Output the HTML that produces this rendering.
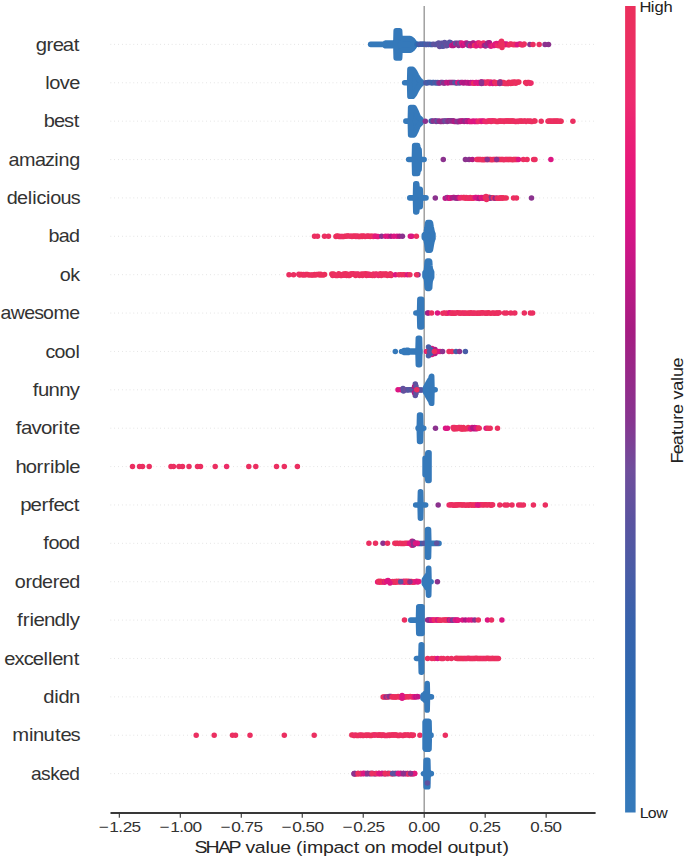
<!DOCTYPE html><html><head><meta charset="utf-8"><style>html,body{margin:0;padding:0;background:#fff;width:685px;height:857px;overflow:hidden}svg{display:block}text{font-family:"Liberation Sans",sans-serif}</style></head><body>
<svg width="685" height="857" viewBox="0 0 685 857">
<rect width="685" height="857" fill="#fff"/>
<defs><linearGradient id="cb" x1="0" y1="1" x2="0" y2="0">
<stop offset="0.000" stop-color="#3579BA"/>
<stop offset="0.015" stop-color="#3579BA"/>
<stop offset="0.077" stop-color="#3072B5"/>
<stop offset="0.139" stop-color="#2C6BB2"/>
<stop offset="0.238" stop-color="#3862AC"/>
<stop offset="0.300" stop-color="#4A5CA6"/>
<stop offset="0.362" stop-color="#5A53A0"/>
<stop offset="0.424" stop-color="#6F4E9C"/>
<stop offset="0.486" stop-color="#873590"/>
<stop offset="0.598" stop-color="#A61C82"/>
<stop offset="0.660" stop-color="#BE1885"/>
<stop offset="0.722" stop-color="#D61486"/>
<stop offset="0.809" stop-color="#E8197A"/>
<stop offset="0.883" stop-color="#ED2A6E"/>
<stop offset="0.945" stop-color="#EB2F63"/>
<stop offset="1.000" stop-color="#EB2F5C"/>
</linearGradient></defs>
<path d="M110.5 44.40H595.6M110.5 82.78H595.6M110.5 121.16H595.6M110.5 159.54H595.6M110.5 197.92H595.6M110.5 236.30H595.6M110.5 274.68H595.6M110.5 313.06H595.6M110.5 351.44H595.6M110.5 389.82H595.6M110.5 428.20H595.6M110.5 466.58H595.6M110.5 504.96H595.6M110.5 543.34H595.6M110.5 581.72H595.6M110.5 620.10H595.6M110.5 658.48H595.6M110.5 696.86H595.6M110.5 735.24H595.6M110.5 773.62H595.6" stroke="#cccccc" stroke-width="0.7" stroke-dasharray="0.7 3.13" fill="none"/>
<path d="M424.20 6.0V812.9" stroke="#999999" stroke-width="1.4" fill="none"/>
<path d="M370.65 44.35 370.90 44.35 371.15 44.35 371.40 44.35 371.65 44.35 371.90 44.35 372.15 44.35 372.40 44.35 372.65 44.35 372.90 44.35 373.15 44.35 373.40 44.35 373.65 44.35 373.90 44.35 374.15 44.35 374.40 44.35 374.65 44.35 374.90 44.35 375.15 44.35 375.40 44.35 375.65 44.35 375.90 44.35 376.15 44.35 376.40 44.35 376.65 44.35 376.90 44.35 377.15 44.35 377.40 44.35 377.65 44.35 377.90 44.35 378.15 44.35 378.40 44.35 378.65 44.35 378.90 44.35 379.15 44.35 379.40 44.35 379.65 44.35 379.90 44.35 380.15 44.35 380.40 44.35 380.65 44.35 380.90 44.35 381.15 44.35 381.40 44.35 381.65 44.35 381.90 44.35 382.15 44.35 382.40 44.35 382.65 44.35 382.90 44.35 383.15 44.33 383.40 44.26 383.65 44.26 383.90 44.15 384.15 43.98 384.40 43.92 384.65 43.75 384.90 43.42 385.15 43.19 385.40 43.05 385.65 43.05 385.90 43.05 386.15 43.05 386.40 43.05 386.65 43.05 386.90 43.05 387.15 43.05 387.40 43.05 387.65 43.05 387.90 43.05 388.15 43.05 388.40 43.05 388.65 43.05 388.90 43.05 389.15 43.05 389.40 43.05 389.65 43.05 389.90 43.05 390.15 43.05 390.40 43.05 390.65 43.05 390.90 43.05 391.15 43.05 391.40 43.05 391.65 43.05 391.90 43.05 392.15 43.05 392.40 43.05 392.65 43.05 392.90 43.05 393.15 43.05 393.40 43.03 393.65 43.03 393.90 42.96 394.15 42.85 394.40 42.85 394.65 42.68 394.90 42.45 395.15 42.12 395.40 42.12 395.65 41.63 395.90 40.30 396.15 30.75 396.40 30.75 396.65 30.75 396.90 30.75 397.15 30.75 397.40 30.75 397.65 30.75 397.90 30.75 398.15 30.75 398.40 30.75 398.65 30.75 398.90 30.75 399.15 30.75 399.40 30.75 399.65 30.75 399.90 35.70 400.15 37.03 400.40 37.03 400.65 37.52 400.90 37.85 401.15 38.08 401.40 38.08 401.65 38.25 401.90 38.36 402.15 38.36 402.40 38.43 402.65 38.45 402.90 38.45 403.15 38.45 403.40 38.45 403.65 38.45 403.90 38.45 404.15 38.45 404.40 38.45 404.65 38.45 404.90 38.45 405.15 38.45 405.40 38.45 405.65 38.45 405.90 38.45 406.15 38.45 406.40 38.45 406.65 38.45 406.90 38.45 407.15 38.45 407.40 38.45 407.65 38.45 407.90 38.45 408.15 38.45 408.40 38.45 408.65 38.45 408.90 38.45 409.15 38.45 409.40 38.45 409.65 38.45 409.90 38.45 410.15 38.56 410.40 38.67 410.65 38.78 410.90 38.89 411.15 39.04 411.40 39.24 411.65 39.44 411.90 39.64 412.15 39.84 412.40 40.04 412.65 40.29 412.90 40.60 413.15 40.92 413.40 41.24 413.65 41.55 413.90 41.89 414.15 42.27 414.40 42.64 414.65 42.99 414.90 43.36 415.15 43.55 415.15 45.25 414.90 45.44 414.65 45.81 414.40 46.16 414.15 46.53 413.90 46.91 413.65 47.25 413.40 47.56 413.15 47.88 412.90 48.20 412.65 48.51 412.40 48.76 412.15 48.96 411.90 49.16 411.65 49.36 411.40 49.56 411.15 49.76 410.90 49.91 410.65 50.02 410.40 50.13 410.15 50.24 409.90 50.35 409.65 50.35 409.40 50.35 409.15 50.35 408.90 50.35 408.65 50.35 408.40 50.35 408.15 50.35 407.90 50.35 407.65 50.35 407.40 50.35 407.15 50.35 406.90 50.35 406.65 50.35 406.40 50.35 406.15 50.35 405.90 50.35 405.65 50.35 405.40 50.35 405.15 50.35 404.90 50.35 404.65 50.35 404.40 50.35 404.15 50.35 403.90 50.35 403.65 50.35 403.40 50.35 403.15 50.35 402.90 50.35 402.65 50.35 402.40 50.37 402.15 50.44 401.90 50.44 401.65 50.55 401.40 50.72 401.15 50.72 400.90 50.95 400.65 51.28 400.40 51.77 400.15 51.77 399.90 53.10 399.65 58.05 399.40 58.05 399.15 58.05 398.90 58.05 398.65 58.05 398.40 58.05 398.15 58.05 397.90 58.05 397.65 58.05 397.40 58.05 397.15 58.05 396.90 58.05 396.65 58.05 396.40 58.05 396.15 58.05 395.90 48.50 395.65 47.17 395.40 46.68 395.15 46.68 394.90 46.35 394.65 46.12 394.40 45.95 394.15 45.95 393.90 45.84 393.65 45.77 393.40 45.77 393.15 45.75 392.90 45.75 392.65 45.75 392.40 45.75 392.15 45.75 391.90 45.75 391.65 45.75 391.40 45.75 391.15 45.75 390.90 45.75 390.65 45.75 390.40 45.75 390.15 45.75 389.90 45.75 389.65 45.75 389.40 45.75 389.15 45.75 388.90 45.75 388.65 45.75 388.40 45.75 388.15 45.75 387.90 45.75 387.65 45.75 387.40 45.75 387.15 45.75 386.90 45.75 386.65 45.75 386.40 45.75 386.15 45.75 385.90 45.75 385.65 45.75 385.40 45.75 385.15 45.61 384.90 45.38 384.65 45.05 384.40 44.88 384.15 44.82 383.90 44.65 383.65 44.54 383.40 44.54 383.15 44.47 382.90 44.45 382.65 44.45 382.40 44.45 382.15 44.45 381.90 44.45 381.65 44.45 381.40 44.45 381.15 44.45 380.90 44.45 380.65 44.45 380.40 44.45 380.15 44.45 379.90 44.45 379.65 44.45 379.40 44.45 379.15 44.45 378.90 44.45 378.65 44.45 378.40 44.45 378.15 44.45 377.90 44.45 377.65 44.45 377.40 44.45 377.15 44.45 376.90 44.45 376.65 44.45 376.40 44.45 376.15 44.45 375.90 44.45 375.65 44.45 375.40 44.45 375.15 44.45 374.90 44.45 374.65 44.45 374.40 44.45 374.15 44.45 373.90 44.45 373.65 44.45 373.40 44.45 373.15 44.45 372.90 44.45 372.65 44.45 372.40 44.45 372.15 44.45 371.90 44.45 371.65 44.45 371.40 44.45 371.15 44.45 370.90 44.45 370.65 44.45Z" fill="#3579ba" stroke="#3579ba" stroke-width="5.50" stroke-linejoin="round"/>
<path d="M416.8 44.3h0" stroke="#3071b5" stroke-width="5.50" stroke-linecap="round" fill="none"/>
<path d="M417.7 44.2h0" stroke="#2d6db3" stroke-width="5.50" stroke-linecap="round" fill="none"/>
<path d="M418.7 44.5h0M419.7 44.2h0" stroke="#3b61ab" stroke-width="5.50" stroke-linecap="round" fill="none"/>
<path d="M420.7 44.2h0" stroke="#485da7" stroke-width="5.50" stroke-linecap="round" fill="none"/>
<path d="M421.7 44.2h0" stroke="#5357a3" stroke-width="5.50" stroke-linecap="round" fill="none"/>
<path d="M422.7 44.2h0" stroke="#3b61ab" stroke-width="5.50" stroke-linecap="round" fill="none"/>
<path d="M423.7 44.2h0" stroke="#485da7" stroke-width="5.50" stroke-linecap="round" fill="none"/>
<path d="M424.7 44.2h0" stroke="#3b61ab" stroke-width="5.50" stroke-linecap="round" fill="none"/>
<path d="M425.7 44.6h0" stroke="#485da7" stroke-width="5.50" stroke-linecap="round" fill="none"/>
<path d="M426.7 44.5h0" stroke="#5357a3" stroke-width="5.50" stroke-linecap="round" fill="none"/>
<path d="M427.7 44.3h0M428.7 44.6h0" stroke="#485da7" stroke-width="5.50" stroke-linecap="round" fill="none"/>
<path d="M429.7 44.2h0M430.7 44.6h0" stroke="#5357a3" stroke-width="5.50" stroke-linecap="round" fill="none"/>
<path d="M431.7 44.6h0" stroke="#3b61ab" stroke-width="5.50" stroke-linecap="round" fill="none"/>
<path d="M432.7 44.5h0" stroke="#485da7" stroke-width="5.50" stroke-linecap="round" fill="none"/>
<path d="M433.7 44.3h0M434.7 44.5h0M435.7 44.2h0M436.7 44.5h0" stroke="#5e529f" stroke-width="5.50" stroke-linecap="round" fill="none"/>
<path d="M437.7 44.2h0" stroke="#5357a3" stroke-width="5.50" stroke-linecap="round" fill="none"/>
<path d="M438.6 43.0h0" stroke="#5e529f" stroke-width="5.50" stroke-linecap="round" fill="none"/>
<path d="M439.6 46.4h0" stroke="#6d4f9c" stroke-width="5.50" stroke-linecap="round" fill="none"/>
<path d="M440.6 46.1h0M441.6 43.3h0M442.6 46.3h0" stroke="#5e529f" stroke-width="5.50" stroke-linecap="round" fill="none"/>
<path d="M443.6 45.9h0" stroke="#5357a3" stroke-width="5.50" stroke-linecap="round" fill="none"/>
<path d="M444.6 42.6h0M445.6 43.0h0" stroke="#5e529f" stroke-width="5.50" stroke-linecap="round" fill="none"/>
<path d="M446.6 45.8h0" stroke="#6d4f9c" stroke-width="5.50" stroke-linecap="round" fill="none"/>
<path d="M447.6 45.3h0M448.6 43.1h0M449.6 42.3h0" stroke="#5e529f" stroke-width="5.50" stroke-linecap="round" fill="none"/>
<path d="M450.6 42.7h0" stroke="#5357a3" stroke-width="5.50" stroke-linecap="round" fill="none"/>
<path d="M451.6 45.4h0M452.6 45.4h0" stroke="#c11885" stroke-width="5.50" stroke-linecap="round" fill="none"/>
<path d="M453.6 45.6h0" stroke="#b01a83" stroke-width="5.50" stroke-linecap="round" fill="none"/>
<path d="M454.6 43.6h0" stroke="#c11885" stroke-width="5.50" stroke-linecap="round" fill="none"/>
<path d="M455.6 43.2h0M456.6 43.2h0" stroke="#5e529f" stroke-width="5.50" stroke-linecap="round" fill="none"/>
<path d="M457.6 43.5h0M458.6 45.5h0" stroke="#8b328e" stroke-width="5.50" stroke-linecap="round" fill="none"/>
<path d="M459.6 43.1h0M460.5 43.6h0" stroke="#6d4f9c" stroke-width="5.50" stroke-linecap="round" fill="none"/>
<path d="M461.5 43.1h0" stroke="#e4187c" stroke-width="5.50" stroke-linecap="round" fill="none"/>
<path d="M462.5 45.4h0" stroke="#dc1682" stroke-width="5.50" stroke-linecap="round" fill="none"/>
<path d="M463.5 45.1h0" stroke="#c11885" stroke-width="5.50" stroke-linecap="round" fill="none"/>
<path d="M464.5 43.4h0M465.5 43.4h0" stroke="#dc1682" stroke-width="5.50" stroke-linecap="round" fill="none"/>
<path d="M466.5 43.1h0" stroke="#c11885" stroke-width="5.50" stroke-linecap="round" fill="none"/>
<path d="M467.5 43.4h0" stroke="#962989" stroke-width="5.50" stroke-linecap="round" fill="none"/>
<path d="M468.5 45.4h0M469.5 43.7h0" stroke="#7c4095" stroke-width="5.50" stroke-linecap="round" fill="none"/>
<path d="M470.5 45.8h0" stroke="#dc1682" stroke-width="5.50" stroke-linecap="round" fill="none"/>
<path d="M471.5 45.2h0" stroke="#c11885" stroke-width="5.50" stroke-linecap="round" fill="none"/>
<path d="M472.5 43.3h0" stroke="#a21f84" stroke-width="5.50" stroke-linecap="round" fill="none"/>
<path d="M473.5 43.0h0" stroke="#b01a83" stroke-width="5.50" stroke-linecap="round" fill="none"/>
<path d="M474.5 45.5h0M475.5 45.8h0" stroke="#eb2f61" stroke-width="5.50" stroke-linecap="round" fill="none"/>
<path d="M476.5 45.8h0" stroke="#e4187c" stroke-width="5.50" stroke-linecap="round" fill="none"/>
<path d="M477.5 43.3h0" stroke="#dc1682" stroke-width="5.50" stroke-linecap="round" fill="none"/>
<path d="M478.5 43.1h0" stroke="#e4187c" stroke-width="5.50" stroke-linecap="round" fill="none"/>
<path d="M479.5 43.3h0" stroke="#ec2d68" stroke-width="5.50" stroke-linecap="round" fill="none"/>
<path d="M480.5 45.7h0" stroke="#dc1682" stroke-width="5.50" stroke-linecap="round" fill="none"/>
<path d="M481.4 45.1h0" stroke="#ec286f" stroke-width="5.50" stroke-linecap="round" fill="none"/>
<path d="M482.4 43.4h0M483.4 43.1h0" stroke="#ec2d68" stroke-width="5.50" stroke-linecap="round" fill="none"/>
<path d="M484.4 45.6h0M485.4 46.0h0" stroke="#b01a83" stroke-width="5.50" stroke-linecap="round" fill="none"/>
<path d="M486.4 45.2h0" stroke="#7c4095" stroke-width="5.50" stroke-linecap="round" fill="none"/>
<path d="M487.4 43.3h0" stroke="#b01a83" stroke-width="5.50" stroke-linecap="round" fill="none"/>
<path d="M488.4 42.9h0" stroke="#8b328e" stroke-width="5.50" stroke-linecap="round" fill="none"/>
<path d="M489.4 42.8h0" stroke="#b01a83" stroke-width="5.50" stroke-linecap="round" fill="none"/>
<path d="M490.4 45.9h0" stroke="#c11885" stroke-width="5.50" stroke-linecap="round" fill="none"/>
<path d="M491.4 46.0h0M492.4 45.4h0" stroke="#dc1682" stroke-width="5.50" stroke-linecap="round" fill="none"/>
<path d="M493.4 45.5h0" stroke="#ec2d68" stroke-width="5.50" stroke-linecap="round" fill="none"/>
<path d="M494.4 45.6h0" stroke="#dc1682" stroke-width="5.50" stroke-linecap="round" fill="none"/>
<path d="M495.4 43.7h0M496.4 43.5h0" stroke="#e4187c" stroke-width="5.50" stroke-linecap="round" fill="none"/>
<path d="M497.4 45.5h0M498.4 45.8h0" stroke="#ec2d68" stroke-width="5.50" stroke-linecap="round" fill="none"/>
<path d="M499.4 43.3h0" stroke="#e4187c" stroke-width="5.50" stroke-linecap="round" fill="none"/>
<path d="M500.4 44.6h0" stroke="#eb2f5c" stroke-width="5.50" stroke-linecap="round" fill="none"/>
<path d="M501.4 44.1h0" stroke="#ec2d68" stroke-width="5.50" stroke-linecap="round" fill="none"/>
<path d="M502.4 44.7h0" stroke="#eb2f61" stroke-width="5.50" stroke-linecap="round" fill="none"/>
<path d="M503.3 44.1h0" stroke="#eb2f5c" stroke-width="5.50" stroke-linecap="round" fill="none"/>
<path d="M504.3 44.1h0" stroke="#dc1682" stroke-width="5.50" stroke-linecap="round" fill="none"/>
<path d="M505.3 44.8h0" stroke="#eb2f61" stroke-width="5.50" stroke-linecap="round" fill="none"/>
<path d="M506.3 44.0h0" stroke="#d11586" stroke-width="5.50" stroke-linecap="round" fill="none"/>
<path d="M507.3 44.6h0" stroke="#dc1682" stroke-width="5.50" stroke-linecap="round" fill="none"/>
<path d="M508.3 44.8h0" stroke="#e4187c" stroke-width="5.50" stroke-linecap="round" fill="none"/>
<path d="M509.3 44.8h0" stroke="#eb2f5c" stroke-width="5.50" stroke-linecap="round" fill="none"/>
<path d="M510.3 44.1h0" stroke="#eb2f61" stroke-width="5.50" stroke-linecap="round" fill="none"/>
<path d="M511.3 44.2h0" stroke="#ec2d68" stroke-width="5.50" stroke-linecap="round" fill="none"/>
<path d="M512.3 44.6h0M513.3 44.7h0" stroke="#eb2f5c" stroke-width="5.50" stroke-linecap="round" fill="none"/>
<path d="M514.3 44.2h0" stroke="#ec2d68" stroke-width="5.50" stroke-linecap="round" fill="none"/>
<path d="M515.3 44.8h0M516.3 44.6h0" stroke="#eb2f61" stroke-width="5.50" stroke-linecap="round" fill="none"/>
<path d="M517.3 44.7h0M518.3 44.2h0M519.3 44.1h0M520.3 44.1h0" stroke="#dc1682" stroke-width="5.50" stroke-linecap="round" fill="none"/>
<path d="M521.3 44.8h0" stroke="#eb2f5c" stroke-width="5.50" stroke-linecap="round" fill="none"/>
<path d="M522.3 44.8h0" stroke="#eb2f61" stroke-width="5.50" stroke-linecap="round" fill="none"/>
<path d="M523.3 44.8h0" stroke="#ec2d68" stroke-width="5.50" stroke-linecap="round" fill="none"/>
<path d="M524.2 44.0h0M501.5 41.2h0M502.0 47.6h0M502.5 44.4h0" stroke="#eb2f61" stroke-width="5.50" stroke-linecap="round" fill="none"/>
<path d="M529.9 44.4h0" stroke="#8b328e" stroke-width="5.50" stroke-linecap="round" fill="none"/>
<path d="M533.0 44.4h0M539.2 44.4h0" stroke="#eb2f61" stroke-width="5.50" stroke-linecap="round" fill="none"/>
<path d="M545.0 44.4h0M548.5 44.4h0" stroke="#8b328e" stroke-width="5.50" stroke-linecap="round" fill="none"/>
<path d="M404.65 82.73 404.90 82.73 405.15 82.73 405.40 82.73 405.65 82.73 405.90 82.73 406.15 82.73 406.40 82.73 406.65 82.73 406.90 82.73 407.15 82.71 407.40 82.64 407.65 82.64 407.90 82.53 408.15 82.36 408.40 82.13 408.65 82.13 408.90 81.80 409.15 81.31 409.40 81.31 409.65 79.98 409.90 69.23 410.15 69.23 410.40 69.23 410.65 69.23 410.90 69.23 411.15 69.23 411.40 69.23 411.65 69.23 411.90 69.23 412.15 69.23 412.40 69.23 412.65 69.23 412.90 69.45 413.15 69.75 413.40 70.05 413.65 70.38 413.90 70.72 414.15 71.05 414.40 71.38 414.65 71.73 414.90 72.24 415.15 72.76 415.40 73.27 415.65 73.79 415.90 74.30 416.15 74.82 416.40 75.29 416.65 75.71 416.90 76.12 417.15 76.54 417.40 76.96 417.65 77.37 417.90 77.79 418.15 78.19 418.40 78.54 418.65 78.88 418.90 79.22 419.15 79.55 419.40 79.88 419.65 80.22 419.90 80.55 420.15 80.77 420.40 81.02 420.65 81.22 420.90 81.42 421.15 81.62 421.40 81.82 421.65 82.02 421.65 83.54 421.40 83.74 421.15 83.94 420.90 84.14 420.65 84.34 420.40 84.54 420.15 84.79 419.90 85.01 419.65 85.34 419.40 85.68 419.15 86.01 418.90 86.34 418.65 86.68 418.40 87.02 418.15 87.37 417.90 87.77 417.65 88.19 417.40 88.60 417.15 89.02 416.90 89.44 416.65 89.85 416.40 90.27 416.15 90.74 415.90 91.26 415.65 91.77 415.40 92.29 415.15 92.80 414.90 93.32 414.65 93.83 414.40 94.18 414.15 94.51 413.90 94.84 413.65 95.18 413.40 95.51 413.15 95.81 412.90 96.11 412.65 96.33 412.40 96.33 412.15 96.33 411.90 96.33 411.65 96.33 411.40 96.33 411.15 96.33 410.90 96.33 410.65 96.33 410.40 96.33 410.15 96.33 409.90 96.33 409.65 85.58 409.40 84.25 409.15 84.25 408.90 83.76 408.65 83.43 408.40 83.43 408.15 83.20 407.90 83.03 407.65 82.92 407.40 82.92 407.15 82.85 406.90 82.83 406.65 82.83 406.40 82.83 406.15 82.83 405.90 82.83 405.65 82.83 405.40 82.83 405.15 82.83 404.90 82.83 404.65 82.83Z" fill="#3579ba" stroke="#3579ba" stroke-width="5.50" stroke-linejoin="round"/>
<path d="M425.8 82.7h0" stroke="#485da7" stroke-width="5.50" stroke-linecap="round" fill="none"/>
<path d="M426.8 83.0h0" stroke="#5357a3" stroke-width="5.50" stroke-linecap="round" fill="none"/>
<path d="M427.8 82.6h0M428.8 82.6h0" stroke="#485da7" stroke-width="5.50" stroke-linecap="round" fill="none"/>
<path d="M429.8 82.6h0" stroke="#3b61ab" stroke-width="5.50" stroke-linecap="round" fill="none"/>
<path d="M430.8 82.6h0M431.8 82.9h0" stroke="#485da7" stroke-width="5.50" stroke-linecap="round" fill="none"/>
<path d="M432.8 82.6h0M433.8 82.6h0" stroke="#3b61ab" stroke-width="5.50" stroke-linecap="round" fill="none"/>
<path d="M434.8 82.7h0" stroke="#485da7" stroke-width="5.50" stroke-linecap="round" fill="none"/>
<path d="M435.8 82.6h0" stroke="#5357a3" stroke-width="5.50" stroke-linecap="round" fill="none"/>
<path d="M436.8 82.9h0" stroke="#3b61ab" stroke-width="5.50" stroke-linecap="round" fill="none"/>
<path d="M437.8 82.6h0" stroke="#5357a3" stroke-width="5.50" stroke-linecap="round" fill="none"/>
<path d="M438.8 82.9h0" stroke="#7c4095" stroke-width="5.50" stroke-linecap="round" fill="none"/>
<path d="M439.8 82.9h0M440.8 82.6h0M441.8 82.6h0" stroke="#962989" stroke-width="5.50" stroke-linecap="round" fill="none"/>
<path d="M442.8 82.6h0" stroke="#5e529f" stroke-width="5.50" stroke-linecap="round" fill="none"/>
<path d="M443.8 82.9h0" stroke="#962989" stroke-width="5.50" stroke-linecap="round" fill="none"/>
<path d="M444.8 82.9h0M445.8 82.6h0" stroke="#8b328e" stroke-width="5.50" stroke-linecap="round" fill="none"/>
<path d="M446.8 82.5h0M447.8 82.9h0M448.8 82.6h0" stroke="#c11885" stroke-width="5.50" stroke-linecap="round" fill="none"/>
<path d="M449.8 82.6h0" stroke="#b01a83" stroke-width="5.50" stroke-linecap="round" fill="none"/>
<path d="M450.8 82.6h0" stroke="#c11885" stroke-width="5.50" stroke-linecap="round" fill="none"/>
<path d="M451.8 82.6h0M452.8 82.6h0" stroke="#8b328e" stroke-width="5.50" stroke-linecap="round" fill="none"/>
<path d="M453.8 82.6h0" stroke="#962989" stroke-width="5.50" stroke-linecap="round" fill="none"/>
<path d="M454.8 82.6h0" stroke="#5e529f" stroke-width="5.50" stroke-linecap="round" fill="none"/>
<path d="M455.8 82.7h0" stroke="#5357a3" stroke-width="5.50" stroke-linecap="round" fill="none"/>
<path d="M456.8 83.0h0" stroke="#5e529f" stroke-width="5.50" stroke-linecap="round" fill="none"/>
<path d="M457.8 82.6h0M458.8 82.6h0" stroke="#dc1682" stroke-width="5.50" stroke-linecap="round" fill="none"/>
<path d="M459.8 83.0h0M460.8 82.6h0" stroke="#5e529f" stroke-width="5.50" stroke-linecap="round" fill="none"/>
<path d="M461.8 82.6h0" stroke="#b01a83" stroke-width="5.50" stroke-linecap="round" fill="none"/>
<path d="M462.8 82.5h0" stroke="#c11885" stroke-width="5.50" stroke-linecap="round" fill="none"/>
<path d="M463.8 83.1h0M464.8 82.5h0M465.8 82.6h0M466.8 83.0h0" stroke="#b01a83" stroke-width="5.50" stroke-linecap="round" fill="none"/>
<path d="M467.8 82.6h0M468.8 83.1h0" stroke="#c11885" stroke-width="5.50" stroke-linecap="round" fill="none"/>
<path d="M469.8 83.1h0M470.8 82.6h0" stroke="#b01a83" stroke-width="5.50" stroke-linecap="round" fill="none"/>
<path d="M471.8 83.0h0M472.8 82.5h0" stroke="#d11586" stroke-width="5.50" stroke-linecap="round" fill="none"/>
<path d="M473.8 83.3h0" stroke="#eb2f5c" stroke-width="5.50" stroke-linecap="round" fill="none"/>
<path d="M474.8 83.2h0" stroke="#eb2f61" stroke-width="5.50" stroke-linecap="round" fill="none"/>
<path d="M475.8 82.4h0M476.8 82.4h0M477.8 83.2h0M478.8 82.4h0" stroke="#dc1682" stroke-width="5.50" stroke-linecap="round" fill="none"/>
<path d="M479.8 83.0h0" stroke="#e4187c" stroke-width="5.50" stroke-linecap="round" fill="none"/>
<path d="M480.8 82.3h0" stroke="#d11586" stroke-width="5.50" stroke-linecap="round" fill="none"/>
<path d="M481.8 82.1h0M482.8 83.2h0" stroke="#dc1682" stroke-width="5.50" stroke-linecap="round" fill="none"/>
<path d="M483.8 82.3h0" stroke="#ec2d68" stroke-width="5.50" stroke-linecap="round" fill="none"/>
<path d="M484.8 82.3h0" stroke="#ec286f" stroke-width="5.50" stroke-linecap="round" fill="none"/>
<path d="M485.8 83.2h0" stroke="#ec2d68" stroke-width="5.50" stroke-linecap="round" fill="none"/>
<path d="M486.8 82.2h0" stroke="#eb2f61" stroke-width="5.50" stroke-linecap="round" fill="none"/>
<path d="M487.8 82.0h0" stroke="#ec2d68" stroke-width="5.50" stroke-linecap="round" fill="none"/>
<path d="M488.8 82.2h0" stroke="#eb2f61" stroke-width="5.50" stroke-linecap="round" fill="none"/>
<path d="M489.8 83.6h0" stroke="#ec286f" stroke-width="5.50" stroke-linecap="round" fill="none"/>
<path d="M490.8 82.0h0" stroke="#ec2d68" stroke-width="5.50" stroke-linecap="round" fill="none"/>
<path d="M491.8 83.1h0M492.8 83.6h0" stroke="#dc1682" stroke-width="5.50" stroke-linecap="round" fill="none"/>
<path d="M493.8 82.3h0" stroke="#d11586" stroke-width="5.50" stroke-linecap="round" fill="none"/>
<path d="M494.8 82.2h0" stroke="#eb2f5c" stroke-width="5.50" stroke-linecap="round" fill="none"/>
<path d="M495.8 83.5h0" stroke="#eb2f61" stroke-width="5.50" stroke-linecap="round" fill="none"/>
<path d="M496.8 83.2h0" stroke="#ec2d68" stroke-width="5.50" stroke-linecap="round" fill="none"/>
<path d="M497.8 83.3h0" stroke="#eb2f61" stroke-width="5.50" stroke-linecap="round" fill="none"/>
<path d="M498.8 83.2h0" stroke="#ec2d68" stroke-width="5.50" stroke-linecap="round" fill="none"/>
<path d="M499.8 83.1h0M500.8 82.0h0M501.8 82.3h0M502.8 83.3h0M503.8 82.4h0M504.8 83.6h0M505.8 83.5h0M506.8 83.5h0M507.8 83.6h0" stroke="#eb2f61" stroke-width="5.50" stroke-linecap="round" fill="none"/>
<path d="M508.8 82.2h0" stroke="#eb2f5c" stroke-width="5.50" stroke-linecap="round" fill="none"/>
<path d="M509.8 83.2h0M510.8 83.6h0M511.8 82.3h0" stroke="#eb2f61" stroke-width="5.50" stroke-linecap="round" fill="none"/>
<path d="M512.8 83.2h0M513.8 82.1h0M514.8 82.0h0" stroke="#eb2f5c" stroke-width="5.50" stroke-linecap="round" fill="none"/>
<path d="M515.8 83.3h0M516.8 82.3h0M517.8 82.3h0" stroke="#eb2f61" stroke-width="5.50" stroke-linecap="round" fill="none"/>
<path d="M518.8 82.1h0" stroke="#eb2f5c" stroke-width="5.50" stroke-linecap="round" fill="none"/>
<path d="M481.5 82.0h0M481.5 83.6h0M499.8 82.0h0M499.8 83.6h0" stroke="#8b328e" stroke-width="5.50" stroke-linecap="round" fill="none"/>
<path d="M525.6 82.5h0" stroke="#eb2f5c" stroke-width="5.50" stroke-linecap="round" fill="none"/>
<path d="M526.7 83.4h0M527.8 82.4h0M528.9 82.4h0M530.0 83.3h0" stroke="#eb2f61" stroke-width="5.50" stroke-linecap="round" fill="none"/>
<path d="M531.0 83.1h0" stroke="#ec2d68" stroke-width="5.50" stroke-linecap="round" fill="none"/>
<path d="M405.85 121.11 406.10 121.11 406.35 121.11 406.60 121.11 406.85 121.11 407.10 121.11 407.35 121.11 407.60 121.11 407.85 121.09 408.10 121.02 408.35 121.02 408.60 120.91 408.85 120.74 409.10 120.51 409.35 120.51 409.60 120.18 409.85 119.69 410.10 119.69 410.35 118.36 410.60 107.41 410.85 107.41 411.10 107.41 411.35 107.41 411.60 107.41 411.85 107.41 412.10 107.41 412.35 107.41 412.60 107.41 412.85 107.41 413.10 107.41 413.35 107.41 413.60 107.41 413.85 107.41 414.10 107.67 414.35 108.09 414.60 108.50 414.85 109.00 415.10 109.50 415.35 110.00 415.60 110.50 415.85 111.00 416.10 111.51 416.35 112.13 416.60 112.76 416.85 113.38 417.10 114.01 417.35 114.63 417.60 115.26 417.85 115.88 418.10 116.50 418.35 116.76 418.60 117.14 418.85 117.38 419.10 117.62 419.35 117.86 419.60 118.11 419.85 118.35 420.10 118.59 420.35 118.83 420.60 119.08 420.85 119.32 421.10 119.56 421.10 122.76 420.85 123.00 420.60 123.24 420.35 123.49 420.10 123.73 419.85 123.97 419.60 124.21 419.35 124.46 419.10 124.70 418.85 124.94 418.60 125.18 418.35 125.56 418.10 125.82 417.85 126.44 417.60 127.06 417.35 127.69 417.10 128.31 416.85 128.94 416.60 129.56 416.35 130.19 416.10 130.81 415.85 131.32 415.60 131.82 415.35 132.32 415.10 132.82 414.85 133.32 414.60 133.82 414.35 134.23 414.10 134.65 413.85 134.91 413.60 134.91 413.35 134.91 413.10 134.91 412.85 134.91 412.60 134.91 412.35 134.91 412.10 134.91 411.85 134.91 411.60 134.91 411.35 134.91 411.10 134.91 410.85 134.91 410.60 134.91 410.35 123.96 410.10 122.63 409.85 122.63 409.60 122.14 409.35 121.81 409.10 121.81 408.85 121.58 408.60 121.41 408.35 121.30 408.10 121.30 407.85 121.23 407.60 121.21 407.35 121.21 407.10 121.21 406.85 121.21 406.60 121.21 406.35 121.21 406.10 121.21 405.85 121.21Z" fill="#3579ba" stroke="#3579ba" stroke-width="5.50" stroke-linejoin="round"/>
<path d="M425.3 121.2h0" stroke="#8b328e" stroke-width="5.50" stroke-linecap="round" fill="none"/>
<path d="M431.2 120.9h0" stroke="#3b61ab" stroke-width="5.50" stroke-linecap="round" fill="none"/>
<path d="M432.2 121.3h0" stroke="#485da7" stroke-width="5.50" stroke-linecap="round" fill="none"/>
<path d="M433.2 120.9h0M434.2 120.9h0M435.2 120.8h0M436.2 121.5h0" stroke="#8b328e" stroke-width="5.50" stroke-linecap="round" fill="none"/>
<path d="M437.2 120.9h0M438.2 121.3h0" stroke="#5e529f" stroke-width="5.50" stroke-linecap="round" fill="none"/>
<path d="M439.2 120.9h0M440.2 121.6h0M441.2 121.5h0M442.2 121.0h0" stroke="#962989" stroke-width="5.50" stroke-linecap="round" fill="none"/>
<path d="M443.2 121.4h0M444.2 120.9h0" stroke="#8b328e" stroke-width="5.50" stroke-linecap="round" fill="none"/>
<path d="M445.2 121.0h0" stroke="#5e529f" stroke-width="5.50" stroke-linecap="round" fill="none"/>
<path d="M446.2 120.9h0" stroke="#6d4f9c" stroke-width="5.50" stroke-linecap="round" fill="none"/>
<path d="M447.2 121.4h0" stroke="#7c4095" stroke-width="5.50" stroke-linecap="round" fill="none"/>
<path d="M448.2 120.7h0" stroke="#8b328e" stroke-width="5.50" stroke-linecap="round" fill="none"/>
<path d="M449.2 120.8h0" stroke="#962989" stroke-width="5.50" stroke-linecap="round" fill="none"/>
<path d="M450.2 120.7h0" stroke="#8b328e" stroke-width="5.50" stroke-linecap="round" fill="none"/>
<path d="M451.2 120.8h0" stroke="#7c4095" stroke-width="5.50" stroke-linecap="round" fill="none"/>
<path d="M452.2 120.9h0" stroke="#962989" stroke-width="5.50" stroke-linecap="round" fill="none"/>
<path d="M453.2 120.7h0" stroke="#8b328e" stroke-width="5.50" stroke-linecap="round" fill="none"/>
<path d="M454.2 121.6h0M455.2 121.5h0M456.2 121.5h0" stroke="#b01a83" stroke-width="5.50" stroke-linecap="round" fill="none"/>
<path d="M457.2 121.5h0" stroke="#7c4095" stroke-width="5.50" stroke-linecap="round" fill="none"/>
<path d="M458.2 121.7h0M459.2 120.9h0" stroke="#8b328e" stroke-width="5.50" stroke-linecap="round" fill="none"/>
<path d="M460.2 121.5h0" stroke="#b01a83" stroke-width="5.50" stroke-linecap="round" fill="none"/>
<path d="M461.2 120.9h0" stroke="#a21f84" stroke-width="5.50" stroke-linecap="round" fill="none"/>
<path d="M462.2 120.9h0" stroke="#c11885" stroke-width="5.50" stroke-linecap="round" fill="none"/>
<path d="M463.2 120.9h0M464.2 121.5h0" stroke="#b01a83" stroke-width="5.50" stroke-linecap="round" fill="none"/>
<path d="M465.2 120.9h0" stroke="#962989" stroke-width="5.50" stroke-linecap="round" fill="none"/>
<path d="M466.2 120.8h0" stroke="#8b328e" stroke-width="5.50" stroke-linecap="round" fill="none"/>
<path d="M467.2 121.4h0M468.2 120.7h0" stroke="#c11885" stroke-width="5.50" stroke-linecap="round" fill="none"/>
<path d="M469.2 121.4h0" stroke="#b01a83" stroke-width="5.50" stroke-linecap="round" fill="none"/>
<path d="M470.2 121.5h0" stroke="#e4187c" stroke-width="5.50" stroke-linecap="round" fill="none"/>
<path d="M471.2 121.4h0" stroke="#dc1682" stroke-width="5.50" stroke-linecap="round" fill="none"/>
<path d="M472.2 121.6h0" stroke="#e4187c" stroke-width="5.50" stroke-linecap="round" fill="none"/>
<path d="M473.2 120.9h0" stroke="#dc1682" stroke-width="5.50" stroke-linecap="round" fill="none"/>
<path d="M474.2 121.4h0" stroke="#e4187c" stroke-width="5.50" stroke-linecap="round" fill="none"/>
<path d="M475.2 121.4h0M476.2 120.9h0M477.2 121.5h0" stroke="#dc1682" stroke-width="5.50" stroke-linecap="round" fill="none"/>
<path d="M478.2 121.4h0" stroke="#ec286f" stroke-width="5.50" stroke-linecap="round" fill="none"/>
<path d="M479.2 121.0h0M480.2 121.0h0" stroke="#ec2d68" stroke-width="5.50" stroke-linecap="round" fill="none"/>
<path d="M481.2 121.4h0" stroke="#ec286f" stroke-width="5.50" stroke-linecap="round" fill="none"/>
<path d="M482.2 121.0h0M483.1 121.0h0" stroke="#dc1682" stroke-width="5.50" stroke-linecap="round" fill="none"/>
<path d="M484.1 121.3h0" stroke="#e4187c" stroke-width="5.50" stroke-linecap="round" fill="none"/>
<path d="M485.1 121.4h0" stroke="#ec2d68" stroke-width="5.50" stroke-linecap="round" fill="none"/>
<path d="M486.1 121.4h0" stroke="#ec286f" stroke-width="5.50" stroke-linecap="round" fill="none"/>
<path d="M487.1 121.4h0" stroke="#ec2d68" stroke-width="5.50" stroke-linecap="round" fill="none"/>
<path d="M488.1 120.9h0" stroke="#ec286f" stroke-width="5.50" stroke-linecap="round" fill="none"/>
<path d="M489.1 121.0h0" stroke="#ec2d68" stroke-width="5.50" stroke-linecap="round" fill="none"/>
<path d="M490.1 120.9h0M491.1 121.5h0" stroke="#eb2f5c" stroke-width="5.50" stroke-linecap="round" fill="none"/>
<path d="M492.1 120.8h0" stroke="#ec286f" stroke-width="5.50" stroke-linecap="round" fill="none"/>
<path d="M493.1 120.9h0M494.1 120.9h0" stroke="#ec2d68" stroke-width="5.50" stroke-linecap="round" fill="none"/>
<path d="M495.1 121.0h0M496.1 121.4h0M497.1 121.4h0" stroke="#eb2f61" stroke-width="5.50" stroke-linecap="round" fill="none"/>
<path d="M498.1 121.4h0" stroke="#eb2f5c" stroke-width="5.50" stroke-linecap="round" fill="none"/>
<path d="M499.1 121.0h0" stroke="#eb2f61" stroke-width="5.50" stroke-linecap="round" fill="none"/>
<path d="M500.1 120.9h0" stroke="#eb2f5c" stroke-width="5.50" stroke-linecap="round" fill="none"/>
<path d="M501.1 121.3h0" stroke="#eb2f61" stroke-width="5.50" stroke-linecap="round" fill="none"/>
<path d="M502.1 121.3h0" stroke="#eb2f5c" stroke-width="5.50" stroke-linecap="round" fill="none"/>
<path d="M503.1 121.0h0" stroke="#ec2d68" stroke-width="5.50" stroke-linecap="round" fill="none"/>
<path d="M504.1 121.4h0M505.1 121.0h0" stroke="#eb2f61" stroke-width="5.50" stroke-linecap="round" fill="none"/>
<path d="M506.1 121.0h0" stroke="#eb2f5c" stroke-width="5.50" stroke-linecap="round" fill="none"/>
<path d="M507.1 121.0h0" stroke="#ec2d68" stroke-width="5.50" stroke-linecap="round" fill="none"/>
<path d="M508.1 121.1h0" stroke="#eb2f5c" stroke-width="5.50" stroke-linecap="round" fill="none"/>
<path d="M509.1 120.9h0" stroke="#eb2f61" stroke-width="5.50" stroke-linecap="round" fill="none"/>
<path d="M510.1 121.3h0" stroke="#eb2f5c" stroke-width="5.50" stroke-linecap="round" fill="none"/>
<path d="M511.1 120.9h0" stroke="#eb2f61" stroke-width="5.50" stroke-linecap="round" fill="none"/>
<path d="M512.1 120.9h0" stroke="#eb2f5c" stroke-width="5.50" stroke-linecap="round" fill="none"/>
<path d="M513.1 121.0h0" stroke="#eb2f61" stroke-width="5.50" stroke-linecap="round" fill="none"/>
<path d="M514.1 121.3h0" stroke="#eb2f5c" stroke-width="5.50" stroke-linecap="round" fill="none"/>
<path d="M515.1 121.4h0" stroke="#ec2d68" stroke-width="5.50" stroke-linecap="round" fill="none"/>
<path d="M516.1 121.4h0" stroke="#eb2f5c" stroke-width="5.50" stroke-linecap="round" fill="none"/>
<path d="M517.1 121.3h0" stroke="#ec2d68" stroke-width="5.50" stroke-linecap="round" fill="none"/>
<path d="M518.1 121.4h0M519.1 121.0h0M520.1 121.0h0" stroke="#eb2f61" stroke-width="5.50" stroke-linecap="round" fill="none"/>
<path d="M521.1 121.3h0" stroke="#ec2d68" stroke-width="5.50" stroke-linecap="round" fill="none"/>
<path d="M522.1 120.9h0M523.1 121.3h0M524.1 121.0h0" stroke="#eb2f5c" stroke-width="5.50" stroke-linecap="round" fill="none"/>
<path d="M525.1 121.0h0M526.1 121.4h0M527.1 121.0h0M528.1 121.0h0M529.1 121.3h0" stroke="#eb2f61" stroke-width="5.50" stroke-linecap="round" fill="none"/>
<path d="M530.1 121.0h0" stroke="#eb2f5c" stroke-width="5.50" stroke-linecap="round" fill="none"/>
<path d="M531.1 121.4h0M532.1 121.4h0M533.1 121.3h0M534.1 121.0h0" stroke="#eb2f61" stroke-width="5.50" stroke-linecap="round" fill="none"/>
<path d="M535.0 121.0h0" stroke="#eb2f5c" stroke-width="5.50" stroke-linecap="round" fill="none"/>
<path d="M541.2 121.2h0" stroke="#eb2f61" stroke-width="5.50" stroke-linecap="round" fill="none"/>
<path d="M548.0 121.2h0" stroke="#eb2f5c" stroke-width="5.50" stroke-linecap="round" fill="none"/>
<path d="M549.0 121.1h0M550.0 121.1h0" stroke="#eb2f61" stroke-width="5.50" stroke-linecap="round" fill="none"/>
<path d="M551.0 121.2h0" stroke="#eb2f5c" stroke-width="5.50" stroke-linecap="round" fill="none"/>
<path d="M552.0 121.2h0" stroke="#eb2f61" stroke-width="5.50" stroke-linecap="round" fill="none"/>
<path d="M553.0 121.2h0" stroke="#eb2f5c" stroke-width="5.50" stroke-linecap="round" fill="none"/>
<path d="M554.0 121.1h0" stroke="#ec2d68" stroke-width="5.50" stroke-linecap="round" fill="none"/>
<path d="M555.1 121.2h0" stroke="#eb2f61" stroke-width="5.50" stroke-linecap="round" fill="none"/>
<path d="M556.1 121.1h0" stroke="#eb2f5c" stroke-width="5.50" stroke-linecap="round" fill="none"/>
<path d="M557.1 121.2h0" stroke="#eb2f61" stroke-width="5.50" stroke-linecap="round" fill="none"/>
<path d="M558.1 121.1h0M559.1 121.2h0" stroke="#eb2f5c" stroke-width="5.50" stroke-linecap="round" fill="none"/>
<path d="M560.1 121.2h0" stroke="#ec2d68" stroke-width="5.50" stroke-linecap="round" fill="none"/>
<path d="M561.1 121.2h0" stroke="#eb2f5c" stroke-width="5.50" stroke-linecap="round" fill="none"/>
<path d="M572.9 121.2h0" stroke="#eb2f61" stroke-width="5.50" stroke-linecap="round" fill="none"/>
<path d="M408.65 159.49 408.90 159.49 409.15 159.49 409.40 159.49 409.65 159.49 409.90 159.49 410.15 159.49 410.40 159.49 410.65 159.49 410.90 159.49 411.15 159.49 411.40 159.49 411.65 159.49 411.90 159.47 412.15 159.40 412.40 159.40 412.65 159.29 412.90 159.12 413.15 159.12 413.40 158.89 413.65 158.56 413.90 158.07 414.15 158.07 414.40 156.74 414.65 145.49 414.90 145.49 415.15 145.49 415.40 145.49 415.65 145.49 415.90 145.49 416.15 145.49 416.40 145.49 416.65 145.49 416.90 145.49 417.15 145.49 417.40 145.49 417.65 145.49 417.90 147.54 418.15 147.54 418.40 148.87 418.65 149.36 418.90 149.69 419.15 149.69 419.40 156.74 419.65 158.07 419.90 158.07 420.15 158.56 420.40 158.89 420.65 159.12 420.90 159.12 421.15 159.29 421.40 159.40 421.65 159.40 421.90 159.47 422.15 159.49 422.40 159.49 422.65 159.49 422.90 159.49 423.15 159.49 423.40 159.49 423.65 159.49 423.90 159.49 424.15 159.49 424.15 159.59 423.90 159.59 423.65 159.59 423.40 159.59 423.15 159.59 422.90 159.59 422.65 159.59 422.40 159.59 422.15 159.59 421.90 159.61 421.65 159.68 421.40 159.68 421.15 159.79 420.90 159.96 420.65 159.96 420.40 160.19 420.15 160.52 419.90 161.01 419.65 161.01 419.40 162.34 419.15 169.39 418.90 169.39 418.65 169.72 418.40 170.21 418.15 171.54 417.90 171.54 417.65 173.59 417.40 173.59 417.15 173.59 416.90 173.59 416.65 173.59 416.40 173.59 416.15 173.59 415.90 173.59 415.65 173.59 415.40 173.59 415.15 173.59 414.90 173.59 414.65 173.59 414.40 162.34 414.15 161.01 413.90 161.01 413.65 160.52 413.40 160.19 413.15 159.96 412.90 159.96 412.65 159.79 412.40 159.68 412.15 159.68 411.90 159.61 411.65 159.59 411.40 159.59 411.15 159.59 410.90 159.59 410.65 159.59 410.40 159.59 410.15 159.59 409.90 159.59 409.65 159.59 409.40 159.59 409.15 159.59 408.90 159.59 408.65 159.59Z" fill="#3579ba" stroke="#3579ba" stroke-width="5.50" stroke-linejoin="round"/>
<path d="M443.3 159.5h0M465.4 159.5h0M469.1 159.5h0" stroke="#8b328e" stroke-width="5.50" stroke-linecap="round" fill="none"/>
<path d="M472.4 159.5h0" stroke="#b01a83" stroke-width="5.50" stroke-linecap="round" fill="none"/>
<path d="M476.8 159.5h0M477.8 159.4h0M478.8 159.6h0" stroke="#eb2f61" stroke-width="5.50" stroke-linecap="round" fill="none"/>
<path d="M479.8 159.6h0" stroke="#eb2f5c" stroke-width="5.50" stroke-linecap="round" fill="none"/>
<path d="M480.8 159.4h0M481.8 159.7h0M482.8 159.5h0M483.8 159.7h0" stroke="#eb2f61" stroke-width="5.50" stroke-linecap="round" fill="none"/>
<path d="M484.9 159.4h0" stroke="#eb2f5c" stroke-width="5.50" stroke-linecap="round" fill="none"/>
<path d="M485.9 159.5h0" stroke="#eb2f61" stroke-width="5.50" stroke-linecap="round" fill="none"/>
<path d="M486.9 159.4h0" stroke="#eb2f5c" stroke-width="5.50" stroke-linecap="round" fill="none"/>
<path d="M487.9 159.4h0" stroke="#eb2f61" stroke-width="5.50" stroke-linecap="round" fill="none"/>
<path d="M488.9 159.6h0" stroke="#eb2f5c" stroke-width="5.50" stroke-linecap="round" fill="none"/>
<path d="M489.9 159.4h0" stroke="#eb2f61" stroke-width="5.50" stroke-linecap="round" fill="none"/>
<path d="M490.9 159.5h0" stroke="#eb2f5c" stroke-width="5.50" stroke-linecap="round" fill="none"/>
<path d="M491.9 159.7h0" stroke="#eb2f61" stroke-width="5.50" stroke-linecap="round" fill="none"/>
<path d="M492.9 159.6h0" stroke="#eb2f5c" stroke-width="5.50" stroke-linecap="round" fill="none"/>
<path d="M494.0 159.6h0" stroke="#eb2f61" stroke-width="5.50" stroke-linecap="round" fill="none"/>
<path d="M495.0 159.6h0" stroke="#eb2f5c" stroke-width="5.50" stroke-linecap="round" fill="none"/>
<path d="M496.0 159.4h0" stroke="#eb2f61" stroke-width="5.50" stroke-linecap="round" fill="none"/>
<path d="M497.0 159.4h0" stroke="#eb2f5c" stroke-width="5.50" stroke-linecap="round" fill="none"/>
<path d="M498.0 159.5h0M499.0 159.4h0M500.0 159.6h0" stroke="#eb2f61" stroke-width="5.50" stroke-linecap="round" fill="none"/>
<path d="M501.1 159.4h0M502.1 159.4h0M503.1 159.6h0" stroke="#eb2f5c" stroke-width="5.50" stroke-linecap="round" fill="none"/>
<path d="M504.1 159.7h0M505.1 159.4h0M506.1 159.6h0M507.1 159.4h0" stroke="#eb2f61" stroke-width="5.50" stroke-linecap="round" fill="none"/>
<path d="M508.1 159.6h0" stroke="#ec2d68" stroke-width="5.50" stroke-linecap="round" fill="none"/>
<path d="M509.1 159.6h0M510.2 159.5h0M511.2 159.4h0M512.2 159.7h0" stroke="#eb2f5c" stroke-width="5.50" stroke-linecap="round" fill="none"/>
<path d="M513.2 159.5h0" stroke="#eb2f61" stroke-width="5.50" stroke-linecap="round" fill="none"/>
<path d="M514.2 159.6h0" stroke="#eb2f5c" stroke-width="5.50" stroke-linecap="round" fill="none"/>
<path d="M515.2 159.5h0M516.2 159.4h0" stroke="#eb2f61" stroke-width="5.50" stroke-linecap="round" fill="none"/>
<path d="M517.2 159.6h0" stroke="#eb2f5c" stroke-width="5.50" stroke-linecap="round" fill="none"/>
<path d="M487.2 159.5h0M496.7 159.5h0" stroke="#8b328e" stroke-width="5.50" stroke-linecap="round" fill="none"/>
<path d="M518.5 159.5h0" stroke="#dc1682" stroke-width="5.50" stroke-linecap="round" fill="none"/>
<path d="M523.3 159.5h0M527.1 159.5h0M533.6 159.5h0M535.0 159.5h0" stroke="#eb2f61" stroke-width="5.50" stroke-linecap="round" fill="none"/>
<path d="M550.9 159.5h0" stroke="#dc1682" stroke-width="5.50" stroke-linecap="round" fill="none"/>
<path d="M409.75 197.87 410.00 197.87 410.25 197.87 410.50 197.87 410.75 197.87 411.00 197.87 411.25 197.87 411.50 197.87 411.75 197.87 412.00 197.87 412.25 197.87 412.50 197.87 412.75 197.87 413.00 197.85 413.25 197.78 413.50 197.78 413.75 197.67 414.00 197.50 414.25 197.50 414.50 197.27 414.75 196.94 415.00 196.45 415.25 196.45 415.50 195.12 415.75 183.87 416.00 183.87 416.25 183.87 416.50 183.87 416.75 183.87 417.00 186.42 417.25 187.75 417.50 187.75 417.75 188.24 418.00 188.57 418.25 188.80 418.50 188.80 418.75 188.97 419.00 189.08 419.25 189.08 419.50 189.15 419.75 189.17 420.00 189.17 420.25 189.17 420.50 195.12 420.75 196.45 421.00 196.45 421.25 196.94 421.50 197.27 421.75 197.50 422.00 197.50 422.25 197.67 422.50 197.78 422.75 197.78 423.00 197.85 423.25 197.87 423.50 197.87 423.75 197.87 424.00 197.87 424.25 197.87 424.50 197.87 424.75 197.87 425.00 197.87 425.25 197.87 425.50 197.87 425.75 197.87 426.00 197.87 426.00 197.97 425.75 197.97 425.50 197.97 425.25 197.97 425.00 197.97 424.75 197.97 424.50 197.97 424.25 197.97 424.00 197.97 423.75 197.97 423.50 197.97 423.25 197.97 423.00 197.99 422.75 198.06 422.50 198.06 422.25 198.17 422.00 198.34 421.75 198.34 421.50 198.57 421.25 198.90 421.00 199.39 420.75 199.39 420.50 200.72 420.25 206.67 420.00 206.67 419.75 206.67 419.50 206.69 419.25 206.76 419.00 206.76 418.75 206.87 418.50 207.04 418.25 207.04 418.00 207.27 417.75 207.60 417.50 208.09 417.25 208.09 417.00 209.42 416.75 211.97 416.50 211.97 416.25 211.97 416.00 211.97 415.75 211.97 415.50 200.72 415.25 199.39 415.00 199.39 414.75 198.90 414.50 198.57 414.25 198.34 414.00 198.34 413.75 198.17 413.50 198.06 413.25 198.06 413.00 197.99 412.75 197.97 412.50 197.97 412.25 197.97 412.00 197.97 411.75 197.97 411.50 197.97 411.25 197.97 411.00 197.97 410.75 197.97 410.50 197.97 410.25 197.97 410.00 197.97 409.75 197.97Z" fill="#3579ba" stroke="#3579ba" stroke-width="5.50" stroke-linejoin="round"/>
<path d="M435.3 197.9h0" stroke="#8b328e" stroke-width="5.50" stroke-linecap="round" fill="none"/>
<path d="M445.2 198.3h0M446.2 198.1h0" stroke="#c11885" stroke-width="5.50" stroke-linecap="round" fill="none"/>
<path d="M447.2 197.6h0" stroke="#7c4095" stroke-width="5.50" stroke-linecap="round" fill="none"/>
<path d="M448.2 197.7h0" stroke="#dc1682" stroke-width="5.50" stroke-linecap="round" fill="none"/>
<path d="M449.2 198.2h0" stroke="#b01a83" stroke-width="5.50" stroke-linecap="round" fill="none"/>
<path d="M450.2 198.2h0M451.2 197.7h0" stroke="#e4187c" stroke-width="5.50" stroke-linecap="round" fill="none"/>
<path d="M452.2 197.8h0M453.2 197.6h0M454.2 197.6h0" stroke="#b01a83" stroke-width="5.50" stroke-linecap="round" fill="none"/>
<path d="M455.2 198.1h0" stroke="#8b328e" stroke-width="5.50" stroke-linecap="round" fill="none"/>
<path d="M456.2 197.7h0" stroke="#b01a83" stroke-width="5.50" stroke-linecap="round" fill="none"/>
<path d="M457.2 198.2h0" stroke="#962989" stroke-width="5.50" stroke-linecap="round" fill="none"/>
<path d="M458.2 197.6h0" stroke="#b01a83" stroke-width="5.50" stroke-linecap="round" fill="none"/>
<path d="M459.2 197.7h0" stroke="#c11885" stroke-width="5.50" stroke-linecap="round" fill="none"/>
<path d="M460.2 198.1h0M461.2 197.6h0M462.2 197.8h0" stroke="#ec286f" stroke-width="5.50" stroke-linecap="round" fill="none"/>
<path d="M463.2 197.6h0" stroke="#ec2d68" stroke-width="5.50" stroke-linecap="round" fill="none"/>
<path d="M464.2 197.6h0" stroke="#eb2f5c" stroke-width="5.50" stroke-linecap="round" fill="none"/>
<path d="M465.2 198.3h0" stroke="#eb2f61" stroke-width="5.50" stroke-linecap="round" fill="none"/>
<path d="M466.2 197.6h0" stroke="#ec2d68" stroke-width="5.50" stroke-linecap="round" fill="none"/>
<path d="M467.2 198.1h0" stroke="#eb2f5c" stroke-width="5.50" stroke-linecap="round" fill="none"/>
<path d="M468.2 198.2h0" stroke="#eb2f61" stroke-width="5.50" stroke-linecap="round" fill="none"/>
<path d="M469.2 198.2h0" stroke="#ec2d68" stroke-width="5.50" stroke-linecap="round" fill="none"/>
<path d="M470.2 197.6h0" stroke="#eb2f61" stroke-width="5.50" stroke-linecap="round" fill="none"/>
<path d="M471.2 198.3h0" stroke="#ec286f" stroke-width="5.50" stroke-linecap="round" fill="none"/>
<path d="M472.2 198.1h0" stroke="#eb2f61" stroke-width="5.50" stroke-linecap="round" fill="none"/>
<path d="M473.2 198.2h0" stroke="#eb2f5c" stroke-width="5.50" stroke-linecap="round" fill="none"/>
<path d="M474.2 197.7h0" stroke="#ec2d68" stroke-width="5.50" stroke-linecap="round" fill="none"/>
<path d="M475.2 197.6h0M476.2 197.5h0" stroke="#dc1682" stroke-width="5.50" stroke-linecap="round" fill="none"/>
<path d="M477.2 198.2h0" stroke="#d11586" stroke-width="5.50" stroke-linecap="round" fill="none"/>
<path d="M478.2 197.5h0" stroke="#dc1682" stroke-width="5.50" stroke-linecap="round" fill="none"/>
<path d="M479.2 198.4h0M480.2 198.2h0" stroke="#b01a83" stroke-width="5.50" stroke-linecap="round" fill="none"/>
<path d="M481.2 197.5h0M482.2 198.3h0" stroke="#e4187c" stroke-width="5.50" stroke-linecap="round" fill="none"/>
<path d="M483.2 197.5h0" stroke="#dc1682" stroke-width="5.50" stroke-linecap="round" fill="none"/>
<path d="M484.2 198.2h0" stroke="#d11586" stroke-width="5.50" stroke-linecap="round" fill="none"/>
<path d="M485.2 197.5h0" stroke="#eb2f5c" stroke-width="5.50" stroke-linecap="round" fill="none"/>
<path d="M486.2 198.4h0M487.2 197.6h0M488.2 198.3h0M489.2 197.3h0" stroke="#eb2f61" stroke-width="5.50" stroke-linecap="round" fill="none"/>
<path d="M490.2 198.2h0" stroke="#962989" stroke-width="5.50" stroke-linecap="round" fill="none"/>
<path d="M491.2 197.7h0M492.2 197.7h0" stroke="#7c4095" stroke-width="5.50" stroke-linecap="round" fill="none"/>
<path d="M493.2 197.7h0M494.2 198.2h0" stroke="#eb2f61" stroke-width="5.50" stroke-linecap="round" fill="none"/>
<path d="M495.2 198.2h0M496.2 198.1h0" stroke="#962989" stroke-width="5.50" stroke-linecap="round" fill="none"/>
<path d="M497.2 198.2h0M498.2 198.3h0" stroke="#eb2f5c" stroke-width="5.50" stroke-linecap="round" fill="none"/>
<path d="M499.2 198.2h0" stroke="#ec2d68" stroke-width="5.50" stroke-linecap="round" fill="none"/>
<path d="M500.2 198.0h0" stroke="#eb2f5c" stroke-width="5.50" stroke-linecap="round" fill="none"/>
<path d="M501.2 197.7h0" stroke="#eb2f61" stroke-width="5.50" stroke-linecap="round" fill="none"/>
<path d="M502.2 198.2h0" stroke="#ec2d68" stroke-width="5.50" stroke-linecap="round" fill="none"/>
<path d="M503.2 197.8h0M504.2 198.0h0M505.2 198.1h0M506.2 198.1h0" stroke="#eb2f5c" stroke-width="5.50" stroke-linecap="round" fill="none"/>
<path d="M486.0 196.4h0M486.5 199.4h0M513.5 197.9h0M516.5 197.9h0" stroke="#eb2f61" stroke-width="5.50" stroke-linecap="round" fill="none"/>
<path d="M531.5 197.9h0" stroke="#8b328e" stroke-width="5.50" stroke-linecap="round" fill="none"/>
<path d="M314.5 236.3h0M317.5 236.3h0M324.5 236.3h0M328.5 236.3h0M335.9 236.5h0" stroke="#eb2f61" stroke-width="5.50" stroke-linecap="round" fill="none"/>
<path d="M336.9 236.1h0M337.9 236.1h0M338.9 236.5h0M339.9 236.5h0" stroke="#eb2f5c" stroke-width="5.50" stroke-linecap="round" fill="none"/>
<path d="M340.9 236.4h0M341.9 236.4h0" stroke="#eb2f61" stroke-width="5.50" stroke-linecap="round" fill="none"/>
<path d="M342.9 236.5h0" stroke="#ec2d68" stroke-width="5.50" stroke-linecap="round" fill="none"/>
<path d="M343.9 236.4h0M344.9 236.2h0" stroke="#eb2f61" stroke-width="5.50" stroke-linecap="round" fill="none"/>
<path d="M345.9 236.2h0M347.0 236.1h0" stroke="#eb2f5c" stroke-width="5.50" stroke-linecap="round" fill="none"/>
<path d="M348.0 236.1h0M349.0 236.1h0M350.0 236.2h0M351.0 236.1h0M352.0 236.4h0M353.0 236.1h0M354.0 236.2h0" stroke="#eb2f61" stroke-width="5.50" stroke-linecap="round" fill="none"/>
<path d="M355.0 236.1h0M356.0 236.5h0" stroke="#eb2f5c" stroke-width="5.50" stroke-linecap="round" fill="none"/>
<path d="M357.1 236.1h0" stroke="#eb2f61" stroke-width="5.50" stroke-linecap="round" fill="none"/>
<path d="M358.1 236.5h0" stroke="#ec2d68" stroke-width="5.50" stroke-linecap="round" fill="none"/>
<path d="M359.1 236.5h0" stroke="#eb2f61" stroke-width="5.50" stroke-linecap="round" fill="none"/>
<path d="M360.1 236.4h0M361.1 236.1h0" stroke="#eb2f5c" stroke-width="5.50" stroke-linecap="round" fill="none"/>
<path d="M362.1 236.4h0M363.1 236.1h0" stroke="#eb2f61" stroke-width="5.50" stroke-linecap="round" fill="none"/>
<path d="M364.1 236.2h0M365.1 236.5h0" stroke="#eb2f5c" stroke-width="5.50" stroke-linecap="round" fill="none"/>
<path d="M366.1 236.2h0M367.1 236.1h0" stroke="#eb2f61" stroke-width="5.50" stroke-linecap="round" fill="none"/>
<path d="M368.2 236.2h0" stroke="#ec2d68" stroke-width="5.50" stroke-linecap="round" fill="none"/>
<path d="M369.2 236.2h0" stroke="#eb2f61" stroke-width="5.50" stroke-linecap="round" fill="none"/>
<path d="M370.2 236.4h0" stroke="#eb2f5c" stroke-width="5.50" stroke-linecap="round" fill="none"/>
<path d="M371.2 236.2h0" stroke="#eb2f61" stroke-width="5.50" stroke-linecap="round" fill="none"/>
<path d="M372.2 236.2h0" stroke="#eb2f5c" stroke-width="5.50" stroke-linecap="round" fill="none"/>
<path d="M373.2 236.4h0M374.2 236.2h0" stroke="#ec2d68" stroke-width="5.50" stroke-linecap="round" fill="none"/>
<path d="M375.2 236.2h0M376.2 236.2h0M377.2 236.4h0M378.2 236.4h0" stroke="#e4187c" stroke-width="5.50" stroke-linecap="round" fill="none"/>
<path d="M381.7 236.3h0" stroke="#8b328e" stroke-width="5.50" stroke-linecap="round" fill="none"/>
<path d="M385.5 236.3h0M388.0 236.3h0" stroke="#dc1682" stroke-width="5.50" stroke-linecap="round" fill="none"/>
<path d="M391.0 236.3h0" stroke="#b01a83" stroke-width="5.50" stroke-linecap="round" fill="none"/>
<path d="M394.0 236.3h0M397.0 236.3h0" stroke="#dc1682" stroke-width="5.50" stroke-linecap="round" fill="none"/>
<path d="M399.5 236.3h0" stroke="#b01a83" stroke-width="5.50" stroke-linecap="round" fill="none"/>
<path d="M402.4 236.3h0" stroke="#8b328e" stroke-width="5.50" stroke-linecap="round" fill="none"/>
<path d="M410.3 236.3h0M411.8 236.3h0" stroke="#dc1682" stroke-width="5.50" stroke-linecap="round" fill="none"/>
<path d="M416.4 236.3h0" stroke="#eb2f61" stroke-width="5.50" stroke-linecap="round" fill="none"/>
<path d="M424.25 234.77 424.50 234.56 424.75 234.35 425.00 234.13 425.25 233.88 425.50 233.67 425.75 233.26 426.00 232.60 426.25 231.80 426.50 230.39 426.75 228.99 427.00 227.58 427.25 225.70 427.50 223.70 427.75 222.45 428.00 222.45 428.25 222.45 428.50 222.45 428.75 222.45 429.00 222.45 429.25 222.45 429.50 222.45 429.75 222.45 430.00 222.45 430.25 222.45 430.50 223.10 430.75 224.44 431.00 225.87 431.25 227.30 431.50 228.55 431.75 229.80 432.00 231.05 432.25 231.91 432.50 232.87 432.75 233.42 433.00 233.97 433.00 238.63 432.75 239.18 432.50 239.73 432.25 240.69 432.00 241.55 431.75 242.80 431.50 244.05 431.25 245.30 431.00 246.73 430.75 248.16 430.50 249.50 430.25 250.15 430.00 250.15 429.75 250.15 429.50 250.15 429.25 250.15 429.00 250.15 428.75 250.15 428.50 250.15 428.25 250.15 428.00 250.15 427.75 250.15 427.50 248.90 427.25 246.90 427.00 245.02 426.75 243.61 426.50 242.21 426.25 240.80 426.00 240.00 425.75 239.34 425.50 238.93 425.25 238.72 425.00 238.47 424.75 238.25 424.50 238.04 424.25 237.83Z" fill="#3579ba" stroke="#3579ba" stroke-width="5.50" stroke-linejoin="round"/>
<path d="M289.0 274.7h0M293.6 274.7h0" stroke="#eb2f61" stroke-width="5.50" stroke-linecap="round" fill="none"/>
<path d="M298.8 274.2h0" stroke="#ec2d68" stroke-width="5.50" stroke-linecap="round" fill="none"/>
<path d="M299.7 275.0h0M300.7 274.4h0" stroke="#eb2f61" stroke-width="5.50" stroke-linecap="round" fill="none"/>
<path d="M301.7 274.5h0M302.7 275.0h0M303.7 274.5h0" stroke="#eb2f5c" stroke-width="5.50" stroke-linecap="round" fill="none"/>
<path d="M304.7 275.0h0" stroke="#eb2f61" stroke-width="5.50" stroke-linecap="round" fill="none"/>
<path d="M305.7 274.4h0" stroke="#ec2d68" stroke-width="5.50" stroke-linecap="round" fill="none"/>
<path d="M306.7 274.4h0" stroke="#eb2f61" stroke-width="5.50" stroke-linecap="round" fill="none"/>
<path d="M307.7 274.5h0M308.7 274.9h0M309.7 274.9h0M310.7 274.9h0M311.7 275.1h0" stroke="#eb2f5c" stroke-width="5.50" stroke-linecap="round" fill="none"/>
<path d="M312.7 274.9h0M313.7 275.0h0M314.7 274.4h0" stroke="#eb2f61" stroke-width="5.50" stroke-linecap="round" fill="none"/>
<path d="M315.7 274.9h0M316.7 274.4h0" stroke="#eb2f5c" stroke-width="5.50" stroke-linecap="round" fill="none"/>
<path d="M317.7 274.4h0M318.7 274.3h0" stroke="#eb2f61" stroke-width="5.50" stroke-linecap="round" fill="none"/>
<path d="M319.7 275.1h0M320.7 274.2h0M321.7 275.0h0M322.7 275.1h0M323.7 274.9h0M324.6 274.4h0M331.8 274.0h0" stroke="#eb2f5c" stroke-width="5.50" stroke-linecap="round" fill="none"/>
<path d="M332.7 275.5h0" stroke="#eb2f61" stroke-width="5.50" stroke-linecap="round" fill="none"/>
<path d="M333.7 274.1h0" stroke="#eb2f5c" stroke-width="5.50" stroke-linecap="round" fill="none"/>
<path d="M334.7 275.2h0M335.7 275.4h0M336.7 275.2h0M337.7 275.4h0M338.7 273.8h0M339.7 274.3h0" stroke="#eb2f61" stroke-width="5.50" stroke-linecap="round" fill="none"/>
<path d="M340.7 275.6h0" stroke="#eb2f5c" stroke-width="5.50" stroke-linecap="round" fill="none"/>
<path d="M341.7 275.4h0" stroke="#eb2f61" stroke-width="5.50" stroke-linecap="round" fill="none"/>
<path d="M342.7 275.3h0" stroke="#eb2f5c" stroke-width="5.50" stroke-linecap="round" fill="none"/>
<path d="M343.6 273.9h0M344.6 275.3h0" stroke="#eb2f61" stroke-width="5.50" stroke-linecap="round" fill="none"/>
<path d="M345.6 273.8h0" stroke="#eb2f5c" stroke-width="5.50" stroke-linecap="round" fill="none"/>
<path d="M346.6 275.5h0M347.6 274.2h0" stroke="#eb2f61" stroke-width="5.50" stroke-linecap="round" fill="none"/>
<path d="M348.6 275.4h0M349.6 275.4h0M350.6 274.0h0" stroke="#eb2f5c" stroke-width="5.50" stroke-linecap="round" fill="none"/>
<path d="M351.6 274.1h0" stroke="#ec2d68" stroke-width="5.50" stroke-linecap="round" fill="none"/>
<path d="M352.6 273.9h0" stroke="#eb2f5c" stroke-width="5.50" stroke-linecap="round" fill="none"/>
<path d="M353.6 273.8h0M354.6 273.9h0" stroke="#eb2f61" stroke-width="5.50" stroke-linecap="round" fill="none"/>
<path d="M355.6 275.6h0" stroke="#eb2f5c" stroke-width="5.50" stroke-linecap="round" fill="none"/>
<path d="M356.5 274.0h0M357.5 274.0h0" stroke="#eb2f61" stroke-width="5.50" stroke-linecap="round" fill="none"/>
<path d="M358.5 274.2h0" stroke="#ec2d68" stroke-width="5.50" stroke-linecap="round" fill="none"/>
<path d="M359.5 275.5h0M360.5 275.1h0" stroke="#eb2f5c" stroke-width="5.50" stroke-linecap="round" fill="none"/>
<path d="M361.5 274.1h0M362.5 275.4h0" stroke="#eb2f61" stroke-width="5.50" stroke-linecap="round" fill="none"/>
<path d="M363.5 274.0h0" stroke="#eb2f5c" stroke-width="5.50" stroke-linecap="round" fill="none"/>
<path d="M364.5 274.2h0M365.5 273.8h0M366.5 275.6h0" stroke="#eb2f61" stroke-width="5.50" stroke-linecap="round" fill="none"/>
<path d="M367.4 273.9h0" stroke="#eb2f5c" stroke-width="5.50" stroke-linecap="round" fill="none"/>
<path d="M368.4 275.2h0" stroke="#eb2f61" stroke-width="5.50" stroke-linecap="round" fill="none"/>
<path d="M369.4 274.3h0" stroke="#ec2d68" stroke-width="5.50" stroke-linecap="round" fill="none"/>
<path d="M370.4 275.3h0" stroke="#eb2f61" stroke-width="5.50" stroke-linecap="round" fill="none"/>
<path d="M371.4 275.3h0" stroke="#ec286f" stroke-width="5.50" stroke-linecap="round" fill="none"/>
<path d="M372.4 275.5h0" stroke="#eb2f5c" stroke-width="5.50" stroke-linecap="round" fill="none"/>
<path d="M373.4 274.0h0M374.4 275.4h0M375.4 274.2h0" stroke="#eb2f61" stroke-width="5.50" stroke-linecap="round" fill="none"/>
<path d="M376.4 274.0h0M377.4 274.2h0M378.4 275.4h0" stroke="#ec2d68" stroke-width="5.50" stroke-linecap="round" fill="none"/>
<path d="M379.4 275.3h0" stroke="#ec286f" stroke-width="5.50" stroke-linecap="round" fill="none"/>
<path d="M380.3 273.8h0M381.3 275.4h0M382.3 274.2h0" stroke="#eb2f61" stroke-width="5.50" stroke-linecap="round" fill="none"/>
<path d="M383.3 274.0h0M384.3 275.1h0" stroke="#eb2f5c" stroke-width="5.50" stroke-linecap="round" fill="none"/>
<path d="M385.3 274.1h0" stroke="#eb2f61" stroke-width="5.50" stroke-linecap="round" fill="none"/>
<path d="M386.3 274.1h0" stroke="#eb2f5c" stroke-width="5.50" stroke-linecap="round" fill="none"/>
<path d="M387.3 275.5h0M388.3 275.1h0" stroke="#eb2f61" stroke-width="5.50" stroke-linecap="round" fill="none"/>
<path d="M389.3 275.2h0M390.3 273.8h0M391.2 275.6h0" stroke="#eb2f5c" stroke-width="5.50" stroke-linecap="round" fill="none"/>
<path d="M391.4 274.7h0" stroke="#eb2f61" stroke-width="5.50" stroke-linecap="round" fill="none"/>
<path d="M395.5 274.7h0" stroke="#dc1682" stroke-width="5.50" stroke-linecap="round" fill="none"/>
<path d="M399.0 274.7h0M401.8 274.7h0M404.5 274.7h0" stroke="#eb2f61" stroke-width="5.50" stroke-linecap="round" fill="none"/>
<path d="M407.5 274.7h0" stroke="#dc1682" stroke-width="5.50" stroke-linecap="round" fill="none"/>
<path d="M409.9 274.7h0" stroke="#eb2f61" stroke-width="5.50" stroke-linecap="round" fill="none"/>
<path d="M418.0 274.7h0" stroke="#8b328e" stroke-width="5.50" stroke-linecap="round" fill="none"/>
<path d="M416.6 274.7h0" stroke="#eb2f61" stroke-width="5.50" stroke-linecap="round" fill="none"/>
<path d="M424.95 272.75 425.20 272.41 425.45 272.07 425.70 271.72 425.95 271.36 426.20 271.02 426.45 269.82 426.70 267.58 426.95 264.08 427.20 261.78 427.45 260.93 427.70 260.93 427.95 260.93 428.20 260.93 428.45 260.93 428.70 260.93 428.95 260.93 429.20 260.93 429.45 260.93 429.70 261.63 429.95 265.68 430.20 268.03 430.45 269.14 430.70 269.73 430.95 270.31 431.20 270.89 431.45 271.48 431.70 272.06 431.70 277.30 431.45 277.88 431.20 278.47 430.95 279.05 430.70 279.63 430.45 280.22 430.20 281.33 429.95 283.68 429.70 287.73 429.45 288.43 429.20 288.43 428.95 288.43 428.70 288.43 428.45 288.43 428.20 288.43 427.95 288.43 427.70 288.43 427.45 288.43 427.20 287.58 426.95 285.28 426.70 281.78 426.45 279.54 426.20 278.34 425.95 278.00 425.70 277.64 425.45 277.29 425.20 276.95 424.95 276.61Z" fill="#3579ba" stroke="#3579ba" stroke-width="5.50" stroke-linejoin="round"/>
<path d="M415.85 313.01 416.10 313.01 416.35 313.01 416.60 313.01 416.85 313.01 417.10 312.99 417.35 312.92 417.60 312.81 417.85 312.81 418.10 312.64 418.35 312.41 418.60 312.41 418.85 312.08 419.10 311.59 419.35 310.26 419.60 310.26 419.85 299.21 420.10 299.21 420.35 299.21 420.60 299.21 420.85 299.21 421.10 299.21 421.35 299.21 421.60 299.21 421.60 326.91 421.35 326.91 421.10 326.91 420.85 326.91 420.60 326.91 420.35 326.91 420.10 326.91 419.85 326.91 419.60 315.86 419.35 315.86 419.10 314.53 418.85 314.04 418.60 313.71 418.35 313.71 418.10 313.48 417.85 313.31 417.60 313.31 417.35 313.20 417.10 313.13 416.85 313.11 416.60 313.11 416.35 313.11 416.10 313.11 415.85 313.11Z" fill="#3579ba" stroke="#3579ba" stroke-width="5.50" stroke-linejoin="round"/>
<path d="M427.5 313.1h0" stroke="#8b328e" stroke-width="5.50" stroke-linecap="round" fill="none"/>
<path d="M428.5 313.1h0" stroke="#b01a83" stroke-width="5.50" stroke-linecap="round" fill="none"/>
<path d="M431.6 313.1h0" stroke="#eb2f61" stroke-width="5.50" stroke-linecap="round" fill="none"/>
<path d="M437.5 313.1h0" stroke="#dc1682" stroke-width="5.50" stroke-linecap="round" fill="none"/>
<path d="M442.8 313.2h0M443.8 312.9h0M444.8 312.9h0M445.8 313.2h0M446.8 312.9h0M447.8 313.3h0M448.8 312.9h0" stroke="#eb2f61" stroke-width="5.50" stroke-linecap="round" fill="none"/>
<path d="M449.8 312.8h0M450.8 312.9h0" stroke="#e4187c" stroke-width="5.50" stroke-linecap="round" fill="none"/>
<path d="M451.8 313.3h0" stroke="#eb2f61" stroke-width="5.50" stroke-linecap="round" fill="none"/>
<path d="M452.8 312.9h0" stroke="#eb2f5c" stroke-width="5.50" stroke-linecap="round" fill="none"/>
<path d="M453.8 313.3h0" stroke="#eb2f61" stroke-width="5.50" stroke-linecap="round" fill="none"/>
<path d="M454.9 313.2h0" stroke="#eb2f5c" stroke-width="5.50" stroke-linecap="round" fill="none"/>
<path d="M455.9 312.9h0M456.9 312.8h0M457.9 312.8h0M458.9 312.9h0" stroke="#eb2f61" stroke-width="5.50" stroke-linecap="round" fill="none"/>
<path d="M459.9 312.9h0" stroke="#eb2f5c" stroke-width="5.50" stroke-linecap="round" fill="none"/>
<path d="M460.9 313.3h0M461.9 312.9h0M462.9 312.9h0" stroke="#eb2f61" stroke-width="5.50" stroke-linecap="round" fill="none"/>
<path d="M463.9 313.3h0" stroke="#eb2f5c" stroke-width="5.50" stroke-linecap="round" fill="none"/>
<path d="M464.9 313.2h0" stroke="#ec2d68" stroke-width="5.50" stroke-linecap="round" fill="none"/>
<path d="M466.0 312.9h0M467.0 313.2h0M468.0 313.0h0" stroke="#eb2f61" stroke-width="5.50" stroke-linecap="round" fill="none"/>
<path d="M469.0 313.2h0M470.0 313.2h0" stroke="#eb2f5c" stroke-width="5.50" stroke-linecap="round" fill="none"/>
<path d="M471.0 312.8h0M472.0 312.9h0" stroke="#eb2f61" stroke-width="5.50" stroke-linecap="round" fill="none"/>
<path d="M473.0 313.3h0" stroke="#eb2f5c" stroke-width="5.50" stroke-linecap="round" fill="none"/>
<path d="M474.0 313.3h0" stroke="#ec2d68" stroke-width="5.50" stroke-linecap="round" fill="none"/>
<path d="M475.0 312.9h0M476.0 313.2h0M477.1 312.9h0M478.1 313.2h0" stroke="#eb2f61" stroke-width="5.50" stroke-linecap="round" fill="none"/>
<path d="M479.1 312.9h0" stroke="#eb2f5c" stroke-width="5.50" stroke-linecap="round" fill="none"/>
<path d="M480.1 313.3h0M481.1 312.9h0" stroke="#eb2f61" stroke-width="5.50" stroke-linecap="round" fill="none"/>
<path d="M482.1 312.8h0" stroke="#eb2f5c" stroke-width="5.50" stroke-linecap="round" fill="none"/>
<path d="M483.1 312.9h0M484.1 312.9h0M485.1 313.2h0" stroke="#eb2f61" stroke-width="5.50" stroke-linecap="round" fill="none"/>
<path d="M486.1 312.9h0" stroke="#eb2f5c" stroke-width="5.50" stroke-linecap="round" fill="none"/>
<path d="M487.1 313.2h0M488.2 312.8h0" stroke="#eb2f61" stroke-width="5.50" stroke-linecap="round" fill="none"/>
<path d="M489.2 312.9h0M490.2 313.3h0M491.2 313.3h0M492.2 312.9h0M493.2 312.9h0" stroke="#eb2f5c" stroke-width="5.50" stroke-linecap="round" fill="none"/>
<path d="M494.2 313.2h0M495.2 313.2h0M496.2 312.9h0" stroke="#eb2f61" stroke-width="5.50" stroke-linecap="round" fill="none"/>
<path d="M497.2 312.9h0" stroke="#eb2f5c" stroke-width="5.50" stroke-linecap="round" fill="none"/>
<path d="M498.2 313.2h0M499.2 312.8h0M504.5 313.1h0M506.5 313.1h0M510.8 313.1h0M514.8 313.1h0M524.3 313.1h0M530.4 313.1h0M532.6 313.1h0" stroke="#eb2f61" stroke-width="5.50" stroke-linecap="round" fill="none"/>
<path d="M395.3 351.4h0" stroke="#3579ba" stroke-width="5.50" stroke-linecap="round" fill="none"/>
<path d="M401.55 351.39 401.80 351.39 402.05 351.37 402.30 351.37 402.55 351.30 402.80 351.19 403.05 351.16 403.30 351.02 403.55 350.79 403.80 350.64 404.05 350.46 404.30 350.43 404.55 350.43 404.80 350.42 405.05 350.41 405.30 350.40 405.55 350.40 405.80 350.39 406.05 350.38 406.30 350.37 406.55 350.37 406.80 350.36 407.05 350.35 407.30 350.34 407.55 350.33 407.80 350.33 408.05 350.32 408.30 350.33 408.55 350.48 408.80 350.59 409.05 350.69 409.30 350.80 409.55 350.80 409.80 350.87 410.05 350.89 410.30 350.89 410.55 350.89 410.80 350.89 411.05 350.89 411.30 350.89 411.55 350.89 411.80 350.89 412.05 350.89 412.30 350.89 412.55 350.89 412.80 350.89 413.05 350.89 413.30 350.89 413.55 350.89 413.80 350.89 414.05 350.89 414.30 350.89 414.55 350.89 414.80 350.89 415.05 350.89 415.30 350.89 415.55 350.87 415.80 350.80 416.05 350.80 416.30 350.69 416.55 350.52 416.80 350.29 417.05 350.29 417.30 349.96 417.55 349.47 417.80 349.47 418.05 348.14 418.30 338.19 418.55 338.19 418.80 338.19 419.05 338.19 419.30 338.19 419.55 338.19 419.80 348.64 420.05 349.97 420.05 352.91 419.80 354.24 419.55 364.69 419.30 364.69 419.05 364.69 418.80 364.69 418.55 364.69 418.30 364.69 418.05 354.74 417.80 353.41 417.55 353.41 417.30 352.92 417.05 352.59 416.80 352.59 416.55 352.36 416.30 352.19 416.05 352.08 415.80 352.08 415.55 352.01 415.30 351.99 415.05 351.99 414.80 351.99 414.55 351.99 414.30 351.99 414.05 351.99 413.80 351.99 413.55 351.99 413.30 351.99 413.05 351.99 412.80 351.99 412.55 351.99 412.30 351.99 412.05 351.99 411.80 351.99 411.55 351.99 411.30 351.99 411.05 351.99 410.80 351.99 410.55 351.99 410.30 351.99 410.05 351.99 409.80 352.01 409.55 352.08 409.30 352.08 409.05 352.19 408.80 352.29 408.55 352.40 408.30 352.55 408.05 352.56 407.80 352.55 407.55 352.55 407.30 352.54 407.05 352.53 406.80 352.52 406.55 352.51 406.30 352.51 406.05 352.50 405.80 352.49 405.55 352.48 405.30 352.48 405.05 352.47 404.80 352.46 404.55 352.45 404.30 352.45 404.05 352.42 403.80 352.24 403.55 352.09 403.30 351.86 403.05 351.72 402.80 351.69 402.55 351.58 402.30 351.51 402.05 351.51 401.80 351.49 401.55 351.49Z" fill="#3579ba" stroke="#3579ba" stroke-width="5.50" stroke-linejoin="round"/>
<path d="M426.5 351.4h0" stroke="#dc1682" stroke-width="5.50" stroke-linecap="round" fill="none"/>
<path d="M427.5 351.4h0" stroke="#eb2f61" stroke-width="5.50" stroke-linecap="round" fill="none"/>
<path d="M432.0 348.4h0M432.0 354.4h0" stroke="#dc1682" stroke-width="5.50" stroke-linecap="round" fill="none"/>
<path d="M435.0 349.4h0M435.0 353.4h0" stroke="#b01a83" stroke-width="5.50" stroke-linecap="round" fill="none"/>
<path d="M438.0 351.4h0" stroke="#dc1682" stroke-width="5.50" stroke-linecap="round" fill="none"/>
<path d="M428.5 347.1h0M428.5 355.7h0M430.5 349.2h0M430.5 353.6h0" stroke="#485da7" stroke-width="5.50" stroke-linecap="round" fill="none"/>
<path d="M429.5 351.4h0" stroke="#5e529f" stroke-width="5.50" stroke-linecap="round" fill="none"/>
<path d="M432.0 351.4h0" stroke="#485da7" stroke-width="5.50" stroke-linecap="round" fill="none"/>
<path d="M434.4 351.4h0" stroke="#eb2f61" stroke-width="5.50" stroke-linecap="round" fill="none"/>
<path d="M440.0 351.4h0" stroke="#dc1682" stroke-width="5.50" stroke-linecap="round" fill="none"/>
<path d="M442.6 351.4h0" stroke="#8b328e" stroke-width="5.50" stroke-linecap="round" fill="none"/>
<path d="M449.0 351.4h0M452.0 351.4h0" stroke="#eb2f61" stroke-width="5.50" stroke-linecap="round" fill="none"/>
<path d="M456.0 351.4h0" stroke="#485da7" stroke-width="5.50" stroke-linecap="round" fill="none"/>
<path d="M459.5 351.4h0" stroke="#8b328e" stroke-width="5.50" stroke-linecap="round" fill="none"/>
<path d="M465.4 351.4h0" stroke="#485da7" stroke-width="5.50" stroke-linecap="round" fill="none"/>
<path d="M398.0 389.8h0M401.0 389.8h0" stroke="#dc1682" stroke-width="5.50" stroke-linecap="round" fill="none"/>
<path d="M403.0 388.5h0M403.5 391.1h0" stroke="#5e529f" stroke-width="5.50" stroke-linecap="round" fill="none"/>
<path d="M405.8 389.7h0M406.8 389.7h0" stroke="#6d4f9c" stroke-width="5.50" stroke-linecap="round" fill="none"/>
<path d="M407.8 390.0h0" stroke="#5e529f" stroke-width="5.50" stroke-linecap="round" fill="none"/>
<path d="M408.8 389.7h0M409.8 389.7h0M410.8 389.7h0" stroke="#5357a3" stroke-width="5.50" stroke-linecap="round" fill="none"/>
<path d="M411.8 389.7h0M412.8 389.9h0M413.8 389.7h0M414.8 389.9h0" stroke="#5e529f" stroke-width="5.50" stroke-linecap="round" fill="none"/>
<path d="M415.8 390.0h0" stroke="#5357a3" stroke-width="5.50" stroke-linecap="round" fill="none"/>
<path d="M416.8 389.7h0" stroke="#5e529f" stroke-width="5.50" stroke-linecap="round" fill="none"/>
<path d="M417.8 389.7h0" stroke="#5357a3" stroke-width="5.50" stroke-linecap="round" fill="none"/>
<path d="M418.8 390.0h0" stroke="#5e529f" stroke-width="5.50" stroke-linecap="round" fill="none"/>
<path d="M419.8 389.9h0M420.8 389.9h0" stroke="#6d4f9c" stroke-width="5.50" stroke-linecap="round" fill="none"/>
<path d="M421.8 390.0h0" stroke="#5357a3" stroke-width="5.50" stroke-linecap="round" fill="none"/>
<path d="M415.3 384.0h0M415.3 395.6h0" stroke="#5e529f" stroke-width="5.50" stroke-linecap="round" fill="none"/>
<path d="M414.5 386.8h0M414.5 392.8h0" stroke="#b01a83" stroke-width="5.50" stroke-linecap="round" fill="none"/>
<path d="M416.0 386.3h0M416.0 393.3h0" stroke="#5e529f" stroke-width="5.50" stroke-linecap="round" fill="none"/>
<path d="M416.8 389.8h0" stroke="#eb2f61" stroke-width="5.50" stroke-linecap="round" fill="none"/>
<path d="M425.45 387.71 425.70 387.25 425.95 386.78 426.20 386.32 426.45 385.86 426.70 385.39 426.95 384.93 427.20 384.46 427.45 384.00 427.70 383.53 427.95 383.08 428.20 382.66 428.45 382.25 428.70 381.83 428.95 381.41 429.20 381.00 429.45 380.58 429.70 380.16 429.95 379.75 430.20 379.33 430.45 378.91 430.70 378.50 430.95 377.79 431.20 376.90 431.45 376.27 431.70 376.27 431.95 387.02 432.20 388.35 432.45 388.35 432.70 388.84 432.95 389.17 433.20 389.17 433.45 389.40 433.70 389.57 433.95 389.68 434.20 389.68 434.45 389.75 434.70 389.77 434.95 389.77 435.20 389.77 435.20 389.87 434.95 389.87 434.70 389.87 434.45 389.89 434.20 389.96 433.95 389.96 433.70 390.07 433.45 390.24 433.20 390.47 432.95 390.47 432.70 390.80 432.45 391.29 432.20 391.29 431.95 392.62 431.70 403.37 431.45 403.37 431.20 402.74 430.95 401.85 430.70 401.14 430.45 400.73 430.20 400.31 429.95 399.89 429.70 399.48 429.45 399.06 429.20 398.64 428.95 398.23 428.70 397.81 428.45 397.39 428.20 396.98 427.95 396.56 427.70 396.11 427.45 395.64 427.20 395.18 426.95 394.71 426.70 394.25 426.45 393.78 426.20 393.32 425.95 392.86 425.70 392.39 425.45 391.93Z" fill="#3579ba" stroke="#3579ba" stroke-width="5.50" stroke-linejoin="round"/>
<path d="M418.05 427.78 418.30 427.55 418.55 427.22 418.80 427.22 419.05 426.73 419.30 425.40 419.55 414.95 419.80 414.95 420.05 414.95 420.30 414.95 420.55 414.95 420.80 425.40 421.05 425.40 421.30 426.73 421.55 427.22 421.80 427.55 422.05 427.55 422.30 427.78 422.55 427.95 422.80 427.95 423.05 428.06 423.30 428.13 423.55 428.15 423.80 428.15 423.80 428.25 423.55 428.25 423.30 428.27 423.05 428.34 422.80 428.45 422.55 428.45 422.30 428.62 422.05 428.85 421.80 428.85 421.55 429.18 421.30 429.67 421.05 431.00 420.80 431.00 420.55 441.45 420.30 441.45 420.05 441.45 419.80 441.45 419.55 441.45 419.30 431.00 419.05 429.67 418.80 429.18 418.55 429.18 418.30 428.85 418.05 428.62Z" fill="#3579ba" stroke="#3579ba" stroke-width="5.50" stroke-linejoin="round"/>
<path d="M435.5 428.2h0" stroke="#8b328e" stroke-width="5.50" stroke-linecap="round" fill="none"/>
<path d="M445.5 428.2h0M447.5 428.2h0" stroke="#dc1682" stroke-width="5.50" stroke-linecap="round" fill="none"/>
<path d="M453.1 427.5h0" stroke="#ec2d68" stroke-width="5.50" stroke-linecap="round" fill="none"/>
<path d="M453.9 429.0h0M454.7 427.4h0" stroke="#eb2f61" stroke-width="5.50" stroke-linecap="round" fill="none"/>
<path d="M455.5 428.8h0" stroke="#ec2d68" stroke-width="5.50" stroke-linecap="round" fill="none"/>
<path d="M456.3 427.8h0" stroke="#eb2f61" stroke-width="5.50" stroke-linecap="round" fill="none"/>
<path d="M457.1 428.8h0" stroke="#eb2f5c" stroke-width="5.50" stroke-linecap="round" fill="none"/>
<path d="M457.9 427.7h0M458.7 427.6h0" stroke="#eb2f61" stroke-width="5.50" stroke-linecap="round" fill="none"/>
<path d="M459.5 427.5h0" stroke="#ec2d68" stroke-width="5.50" stroke-linecap="round" fill="none"/>
<path d="M460.3 428.7h0M461.1 427.4h0" stroke="#eb2f61" stroke-width="5.50" stroke-linecap="round" fill="none"/>
<path d="M461.8 428.9h0" stroke="#eb2f5c" stroke-width="5.50" stroke-linecap="round" fill="none"/>
<path d="M462.6 428.9h0" stroke="#eb2f61" stroke-width="5.50" stroke-linecap="round" fill="none"/>
<path d="M463.4 427.5h0M464.2 428.8h0" stroke="#eb2f5c" stroke-width="5.50" stroke-linecap="round" fill="none"/>
<path d="M465.0 428.7h0" stroke="#eb2f61" stroke-width="5.50" stroke-linecap="round" fill="none"/>
<path d="M465.8 428.8h0M466.6 428.6h0M467.4 428.7h0M468.2 427.6h0" stroke="#eb2f5c" stroke-width="5.50" stroke-linecap="round" fill="none"/>
<path d="M469.0 428.6h0M469.8 428.8h0" stroke="#eb2f61" stroke-width="5.50" stroke-linecap="round" fill="none"/>
<path d="M470.6 428.7h0" stroke="#dc1682" stroke-width="5.50" stroke-linecap="round" fill="none"/>
<path d="M471.3 428.8h0" stroke="#e4187c" stroke-width="5.50" stroke-linecap="round" fill="none"/>
<path d="M472.1 427.6h0" stroke="#dc1682" stroke-width="5.50" stroke-linecap="round" fill="none"/>
<path d="M472.9 427.9h0M473.7 428.8h0M474.5 427.6h0M475.3 428.7h0" stroke="#b01a83" stroke-width="5.50" stroke-linecap="round" fill="none"/>
<path d="M476.1 427.7h0M476.9 428.8h0M477.7 428.5h0" stroke="#dc1682" stroke-width="5.50" stroke-linecap="round" fill="none"/>
<path d="M478.5 428.0h0" stroke="#eb2f5c" stroke-width="5.50" stroke-linecap="round" fill="none"/>
<path d="M479.2 428.3h0" stroke="#eb2f61" stroke-width="5.50" stroke-linecap="round" fill="none"/>
<path d="M486.1 428.2h0" stroke="#dc1682" stroke-width="5.50" stroke-linecap="round" fill="none"/>
<path d="M488.0 428.2h0M490.2 428.2h0M497.5 428.2h0M132.5 466.6h0M139.5 466.6h0M142.5 466.6h0M149.2 466.6h0M171.0 466.6h0M173.5 466.6h0M179.0 466.6h0M182.5 466.6h0M189.0 466.6h0M197.5 466.6h0M200.5 466.6h0M215.2 466.6h0M248.8 466.6h0M255.8 466.6h0M276.5 466.6h0M284.3 466.6h0M297.4 466.6h0" stroke="#eb2f61" stroke-width="5.50" stroke-linecap="round" fill="none"/>
<path d="M226.6 466.6h0" stroke="#ec2d68" stroke-width="5.50" stroke-linecap="round" fill="none"/>
<path d="M425.05 458.31 425.30 458.31 425.55 458.24 425.80 458.13 426.05 457.96 426.30 457.96 426.55 457.73 426.80 457.40 427.05 457.40 427.30 456.91 427.55 455.58 427.80 452.73 428.05 452.73 428.30 452.73 428.55 452.73 428.80 452.73 429.05 452.73 429.05 480.43 428.80 480.43 428.55 480.43 428.30 480.43 428.05 480.43 427.80 480.43 427.55 477.58 427.30 476.25 427.05 475.76 426.80 475.76 426.55 475.43 426.30 475.20 426.05 475.20 425.80 475.03 425.55 474.92 425.30 474.85 425.05 474.85Z" fill="#3579ba" stroke="#3579ba" stroke-width="5.50" stroke-linejoin="round"/>
<path d="M415.65 504.91 415.90 504.91 416.15 504.91 416.40 504.91 416.65 504.91 416.90 504.91 417.15 504.91 417.40 504.91 417.65 504.89 417.90 504.82 418.15 504.82 418.40 504.71 418.65 504.54 418.90 504.31 419.15 504.31 419.40 503.98 419.65 503.49 419.90 503.49 420.15 502.16 420.40 491.71 420.65 491.71 420.90 502.16 421.15 503.49 421.40 503.98 421.65 503.98 421.90 504.31 422.15 504.54 422.40 504.71 422.65 504.71 422.90 504.82 423.15 504.89 423.40 504.89 423.65 504.91 423.90 504.91 424.15 504.91 424.40 504.91 424.65 504.91 424.90 504.91 425.15 504.91 425.40 504.91 425.65 504.91 425.65 505.01 425.40 505.01 425.15 505.01 424.90 505.01 424.65 505.01 424.40 505.01 424.15 505.01 423.90 505.01 423.65 505.01 423.40 505.03 423.15 505.03 422.90 505.10 422.65 505.21 422.40 505.21 422.15 505.38 421.90 505.61 421.65 505.94 421.40 505.94 421.15 506.43 420.90 507.76 420.65 518.21 420.40 518.21 420.15 507.76 419.90 506.43 419.65 506.43 419.40 505.94 419.15 505.61 418.90 505.61 418.65 505.38 418.40 505.21 418.15 505.10 417.90 505.10 417.65 505.03 417.40 505.01 417.15 505.01 416.90 505.01 416.65 505.01 416.40 505.01 416.15 505.01 415.90 505.01 415.65 505.01Z" fill="#3579ba" stroke="#3579ba" stroke-width="5.50" stroke-linejoin="round"/>
<path d="M438.2 505.0h0" stroke="#8b328e" stroke-width="5.50" stroke-linecap="round" fill="none"/>
<path d="M449.1 505.1h0M450.1 505.1h0" stroke="#ec2d68" stroke-width="5.50" stroke-linecap="round" fill="none"/>
<path d="M451.1 504.8h0M452.1 504.8h0M453.1 505.2h0" stroke="#eb2f61" stroke-width="5.50" stroke-linecap="round" fill="none"/>
<path d="M454.1 505.2h0" stroke="#ec2d68" stroke-width="5.50" stroke-linecap="round" fill="none"/>
<path d="M455.1 505.1h0" stroke="#eb2f5c" stroke-width="5.50" stroke-linecap="round" fill="none"/>
<path d="M456.1 505.1h0" stroke="#eb2f61" stroke-width="5.50" stroke-linecap="round" fill="none"/>
<path d="M457.1 505.1h0" stroke="#eb2f5c" stroke-width="5.50" stroke-linecap="round" fill="none"/>
<path d="M458.0 504.7h0M459.0 504.8h0" stroke="#eb2f61" stroke-width="5.50" stroke-linecap="round" fill="none"/>
<path d="M460.0 504.7h0M461.0 504.8h0" stroke="#eb2f5c" stroke-width="5.50" stroke-linecap="round" fill="none"/>
<path d="M462.0 505.1h0" stroke="#eb2f61" stroke-width="5.50" stroke-linecap="round" fill="none"/>
<path d="M463.0 505.1h0M464.0 504.8h0M465.0 505.1h0" stroke="#eb2f5c" stroke-width="5.50" stroke-linecap="round" fill="none"/>
<path d="M466.0 505.2h0M466.9 505.1h0M467.9 505.1h0" stroke="#eb2f61" stroke-width="5.50" stroke-linecap="round" fill="none"/>
<path d="M468.9 505.2h0M469.9 504.8h0M470.9 504.7h0" stroke="#eb2f5c" stroke-width="5.50" stroke-linecap="round" fill="none"/>
<path d="M471.9 505.2h0M472.9 505.1h0" stroke="#eb2f61" stroke-width="5.50" stroke-linecap="round" fill="none"/>
<path d="M473.9 505.1h0" stroke="#eb2f5c" stroke-width="5.50" stroke-linecap="round" fill="none"/>
<path d="M474.9 505.2h0M475.8 504.7h0M476.8 505.1h0M477.8 504.8h0M478.8 505.2h0" stroke="#eb2f61" stroke-width="5.50" stroke-linecap="round" fill="none"/>
<path d="M479.8 504.8h0M480.8 504.8h0" stroke="#ec2d68" stroke-width="5.50" stroke-linecap="round" fill="none"/>
<path d="M481.8 504.8h0" stroke="#eb2f61" stroke-width="5.50" stroke-linecap="round" fill="none"/>
<path d="M482.8 504.8h0" stroke="#ec2d68" stroke-width="5.50" stroke-linecap="round" fill="none"/>
<path d="M483.8 505.1h0M484.7 504.8h0" stroke="#eb2f61" stroke-width="5.50" stroke-linecap="round" fill="none"/>
<path d="M485.7 504.8h0M486.7 504.8h0" stroke="#eb2f5c" stroke-width="5.50" stroke-linecap="round" fill="none"/>
<path d="M487.7 505.1h0M488.7 504.8h0M489.7 504.8h0M490.7 505.2h0" stroke="#eb2f61" stroke-width="5.50" stroke-linecap="round" fill="none"/>
<path d="M491.7 505.1h0" stroke="#eb2f5c" stroke-width="5.50" stroke-linecap="round" fill="none"/>
<path d="M492.6 504.8h0" stroke="#eb2f61" stroke-width="5.50" stroke-linecap="round" fill="none"/>
<path d="M477.6 505.0h0" stroke="#dc1682" stroke-width="5.50" stroke-linecap="round" fill="none"/>
<path d="M499.8 505.0h0M505.0 505.0h0M507.2 505.0h0M512.0 505.0h0" stroke="#eb2f61" stroke-width="5.50" stroke-linecap="round" fill="none"/>
<path d="M518.7 505.0h0" stroke="#ec2d68" stroke-width="5.50" stroke-linecap="round" fill="none"/>
<path d="M521.0 505.0h0M523.4 505.0h0M533.4 505.0h0M545.3 505.0h0M368.9 543.3h0M375.5 543.3h0" stroke="#eb2f61" stroke-width="5.50" stroke-linecap="round" fill="none"/>
<path d="M383.0 543.3h0" stroke="#8b328e" stroke-width="5.50" stroke-linecap="round" fill="none"/>
<path d="M387.5 543.3h0M394.8 543.2h0M395.7 543.5h0" stroke="#eb2f61" stroke-width="5.50" stroke-linecap="round" fill="none"/>
<path d="M396.7 543.2h0M397.7 543.2h0M398.7 543.4h0M399.7 543.2h0" stroke="#eb2f5c" stroke-width="5.50" stroke-linecap="round" fill="none"/>
<path d="M400.6 543.5h0M401.6 543.4h0M402.6 543.4h0" stroke="#eb2f61" stroke-width="5.50" stroke-linecap="round" fill="none"/>
<path d="M403.6 543.4h0M404.6 543.4h0" stroke="#eb2f5c" stroke-width="5.50" stroke-linecap="round" fill="none"/>
<path d="M405.6 543.3h0M406.5 543.2h0M407.5 543.3h0M408.5 543.3h0" stroke="#eb2f61" stroke-width="5.50" stroke-linecap="round" fill="none"/>
<path d="M409.5 543.5h0" stroke="#e4187c" stroke-width="5.50" stroke-linecap="round" fill="none"/>
<path d="M410.5 543.5h0M411.4 543.5h0M412.4 543.5h0M413.4 543.1h0M414.4 543.1h0" stroke="#dc1682" stroke-width="5.50" stroke-linecap="round" fill="none"/>
<path d="M415.4 543.4h0" stroke="#e4187c" stroke-width="5.50" stroke-linecap="round" fill="none"/>
<path d="M416.4 543.2h0M417.3 543.5h0M418.3 543.6h0" stroke="#dc1682" stroke-width="5.50" stroke-linecap="round" fill="none"/>
<path d="M419.3 543.4h0" stroke="#485da7" stroke-width="5.50" stroke-linecap="round" fill="none"/>
<path d="M420.3 543.4h0" stroke="#3b61ab" stroke-width="5.50" stroke-linecap="round" fill="none"/>
<path d="M421.3 543.4h0" stroke="#5357a3" stroke-width="5.50" stroke-linecap="round" fill="none"/>
<path d="M422.2 543.4h0" stroke="#3b61ab" stroke-width="5.50" stroke-linecap="round" fill="none"/>
<path d="M410.0 543.3h0M412.0 541.3h0M412.0 545.3h0" stroke="#dc1682" stroke-width="5.50" stroke-linecap="round" fill="none"/>
<path d="M413.0 541.5h0M413.5 545.1h0" stroke="#8b328e" stroke-width="5.50" stroke-linecap="round" fill="none"/>
<path d="M415.5 543.3h0M417.4 543.3h0" stroke="#dc1682" stroke-width="5.50" stroke-linecap="round" fill="none"/>
<path d="M424.0 543.3h0" stroke="#5e529f" stroke-width="5.50" stroke-linecap="round" fill="none"/>
<path d="M427.55 529.49 427.80 529.49 428.05 529.49 428.30 529.49 428.55 529.49 428.80 540.54 429.05 541.87 429.30 541.87 429.55 542.36 429.80 542.69 430.05 542.92 430.30 542.92 430.55 543.09 430.80 543.20 431.05 543.20 431.30 543.27 431.55 543.29 431.80 543.29 432.05 543.29 432.30 543.29 432.55 543.29 432.80 543.29 433.05 543.29 433.30 543.29 433.55 543.29 433.80 543.29 434.05 543.29 434.30 543.29 434.55 543.29 434.80 543.29 435.05 543.29 435.30 543.29 435.55 543.29 435.80 543.29 436.05 543.29 436.30 543.29 436.55 543.29 436.80 543.29 437.05 543.29 437.30 543.29 437.55 543.29 437.80 543.29 438.05 543.29 438.30 543.29 438.55 543.29 438.80 543.29 439.05 543.29 439.05 543.39 438.80 543.39 438.55 543.39 438.30 543.39 438.05 543.39 437.80 543.39 437.55 543.39 437.30 543.39 437.05 543.39 436.80 543.39 436.55 543.39 436.30 543.39 436.05 543.39 435.80 543.39 435.55 543.39 435.30 543.39 435.05 543.39 434.80 543.39 434.55 543.39 434.30 543.39 434.05 543.39 433.80 543.39 433.55 543.39 433.30 543.39 433.05 543.39 432.80 543.39 432.55 543.39 432.30 543.39 432.05 543.39 431.80 543.39 431.55 543.39 431.30 543.41 431.05 543.48 430.80 543.48 430.55 543.59 430.30 543.76 430.05 543.76 429.80 543.99 429.55 544.32 429.30 544.81 429.05 544.81 428.80 546.14 428.55 557.19 428.30 557.19 428.05 557.19 427.80 557.19 427.55 557.19Z" fill="#3579ba" stroke="#3579ba" stroke-width="5.50" stroke-linejoin="round"/>
<path d="M436.7 543.3h0" stroke="#5e529f" stroke-width="5.50" stroke-linecap="round" fill="none"/>
<path d="M377.6 582.0h0" stroke="#e4187c" stroke-width="5.50" stroke-linecap="round" fill="none"/>
<path d="M378.7 581.3h0" stroke="#eb2f5c" stroke-width="5.50" stroke-linecap="round" fill="none"/>
<path d="M379.7 582.2h0" stroke="#eb2f61" stroke-width="5.50" stroke-linecap="round" fill="none"/>
<path d="M380.7 581.3h0" stroke="#eb2f5c" stroke-width="5.50" stroke-linecap="round" fill="none"/>
<path d="M381.7 582.1h0" stroke="#eb2f61" stroke-width="5.50" stroke-linecap="round" fill="none"/>
<path d="M382.7 582.1h0M383.7 581.4h0" stroke="#eb2f5c" stroke-width="5.50" stroke-linecap="round" fill="none"/>
<path d="M384.7 582.2h0" stroke="#dc1682" stroke-width="5.50" stroke-linecap="round" fill="none"/>
<path d="M385.7 581.5h0" stroke="#eb2f5c" stroke-width="5.50" stroke-linecap="round" fill="none"/>
<path d="M386.7 581.2h0M387.7 581.3h0" stroke="#dc1682" stroke-width="5.50" stroke-linecap="round" fill="none"/>
<path d="M388.7 581.2h0M389.7 581.4h0" stroke="#e4187c" stroke-width="5.50" stroke-linecap="round" fill="none"/>
<path d="M390.7 582.1h0" stroke="#dc1682" stroke-width="5.50" stroke-linecap="round" fill="none"/>
<path d="M391.7 582.1h0M392.7 581.4h0M393.7 582.2h0M394.7 581.4h0" stroke="#eb2f61" stroke-width="5.50" stroke-linecap="round" fill="none"/>
<path d="M395.7 582.2h0" stroke="#eb2f5c" stroke-width="5.50" stroke-linecap="round" fill="none"/>
<path d="M396.7 581.3h0M397.7 582.0h0M398.7 581.3h0M399.7 582.1h0M400.7 581.5h0" stroke="#eb2f61" stroke-width="5.50" stroke-linecap="round" fill="none"/>
<path d="M401.7 581.5h0" stroke="#eb2f5c" stroke-width="5.50" stroke-linecap="round" fill="none"/>
<path d="M402.7 582.0h0" stroke="#e4187c" stroke-width="5.50" stroke-linecap="round" fill="none"/>
<path d="M403.7 581.3h0" stroke="#dc1682" stroke-width="5.50" stroke-linecap="round" fill="none"/>
<path d="M404.7 582.2h0" stroke="#e4187c" stroke-width="5.50" stroke-linecap="round" fill="none"/>
<path d="M405.7 581.3h0M406.7 581.2h0" stroke="#eb2f61" stroke-width="5.50" stroke-linecap="round" fill="none"/>
<path d="M407.7 582.2h0" stroke="#eb2f5c" stroke-width="5.50" stroke-linecap="round" fill="none"/>
<path d="M408.7 581.2h0" stroke="#eb2f61" stroke-width="5.50" stroke-linecap="round" fill="none"/>
<path d="M409.7 582.2h0M410.7 581.4h0" stroke="#eb2f5c" stroke-width="5.50" stroke-linecap="round" fill="none"/>
<path d="M411.7 581.4h0" stroke="#eb2f61" stroke-width="5.50" stroke-linecap="round" fill="none"/>
<path d="M412.7 582.3h0" stroke="#eb2f5c" stroke-width="5.50" stroke-linecap="round" fill="none"/>
<path d="M413.7 582.0h0" stroke="#eb2f61" stroke-width="5.50" stroke-linecap="round" fill="none"/>
<path d="M414.7 582.0h0" stroke="#ec2d68" stroke-width="5.50" stroke-linecap="round" fill="none"/>
<path d="M415.7 581.5h0M416.7 581.2h0" stroke="#e4187c" stroke-width="5.50" stroke-linecap="round" fill="none"/>
<path d="M417.7 582.1h0" stroke="#dc1682" stroke-width="5.50" stroke-linecap="round" fill="none"/>
<path d="M418.8 581.4h0" stroke="#e4187c" stroke-width="5.50" stroke-linecap="round" fill="none"/>
<path d="M388.0 580.4h0M390.0 583.0h0" stroke="#dc1682" stroke-width="5.50" stroke-linecap="round" fill="none"/>
<path d="M400.7 581.7h0" stroke="#5e529f" stroke-width="5.50" stroke-linecap="round" fill="none"/>
<path d="M410.0 581.7h0" stroke="#8b328e" stroke-width="5.50" stroke-linecap="round" fill="none"/>
<path d="M424.25 579.74 424.50 579.37 424.75 579.01 425.00 578.64 425.25 578.27 425.50 577.90 425.75 577.53 426.00 577.16 426.25 576.79 426.50 576.42 426.75 576.05 427.00 575.68 427.25 575.32 427.50 574.95 427.75 574.58 428.00 574.21 428.25 573.02 428.50 568.27 428.75 568.27 429.00 578.92 429.25 580.25 429.50 580.74 429.75 580.74 430.00 581.07 430.25 581.30 430.50 581.47 430.75 581.47 431.00 581.58 431.25 581.65 431.25 581.79 431.00 581.86 430.75 581.97 430.50 581.97 430.25 582.14 430.00 582.37 429.75 582.70 429.50 582.70 429.25 583.19 429.00 584.52 428.75 595.17 428.50 595.17 428.25 590.42 428.00 589.23 427.75 588.86 427.50 588.49 427.25 588.12 427.00 587.76 426.75 587.39 426.50 587.02 426.25 586.65 426.00 586.28 425.75 585.91 425.50 585.54 425.25 585.17 425.00 584.80 424.75 584.43 424.50 584.07 424.25 583.70Z" fill="#3579ba" stroke="#3579ba" stroke-width="5.50" stroke-linejoin="round"/>
<path d="M437.4 581.7h0" stroke="#8b328e" stroke-width="5.50" stroke-linecap="round" fill="none"/>
<path d="M404.5 620.1h0" stroke="#eb2f61" stroke-width="5.50" stroke-linecap="round" fill="none"/>
<path d="M410.75 620.05 411.00 620.05 411.25 620.05 411.50 620.05 411.75 620.05 412.00 620.05 412.25 620.05 412.50 620.05 412.75 620.05 413.00 620.05 413.25 620.05 413.50 620.05 413.75 620.05 414.00 620.05 414.25 620.05 414.50 620.05 414.75 620.05 415.00 620.05 415.25 620.05 415.50 620.05 415.75 620.05 416.00 620.03 416.25 620.03 416.50 619.96 416.75 619.85 417.00 619.85 417.25 619.68 417.50 619.45 417.75 619.12 418.00 619.12 418.25 618.63 418.50 617.30 418.75 606.65 419.00 606.65 419.25 606.65 419.50 606.65 419.75 606.65 420.00 606.65 420.25 606.65 420.50 606.65 420.75 606.65 421.00 606.65 421.25 606.65 421.50 606.65 421.75 606.65 422.00 606.65 422.00 633.55 421.75 633.55 421.50 633.55 421.25 633.55 421.00 633.55 420.75 633.55 420.50 633.55 420.25 633.55 420.00 633.55 419.75 633.55 419.50 633.55 419.25 633.55 419.00 633.55 418.75 633.55 418.50 622.90 418.25 621.57 418.00 621.08 417.75 621.08 417.50 620.75 417.25 620.52 417.00 620.35 416.75 620.35 416.50 620.24 416.25 620.17 416.00 620.17 415.75 620.15 415.50 620.15 415.25 620.15 415.00 620.15 414.75 620.15 414.50 620.15 414.25 620.15 414.00 620.15 413.75 620.15 413.50 620.15 413.25 620.15 413.00 620.15 412.75 620.15 412.50 620.15 412.25 620.15 412.00 620.15 411.75 620.15 411.50 620.15 411.25 620.15 411.00 620.15 410.75 620.15Z" fill="#3579ba" stroke="#3579ba" stroke-width="5.50" stroke-linejoin="round"/>
<path d="M427.6 620.0h0" stroke="#8b328e" stroke-width="5.50" stroke-linecap="round" fill="none"/>
<path d="M428.6 620.0h0" stroke="#962989" stroke-width="5.50" stroke-linecap="round" fill="none"/>
<path d="M429.6 620.0h0" stroke="#8b328e" stroke-width="5.50" stroke-linecap="round" fill="none"/>
<path d="M430.6 620.2h0" stroke="#962989" stroke-width="5.50" stroke-linecap="round" fill="none"/>
<path d="M431.6 620.0h0" stroke="#dc1682" stroke-width="5.50" stroke-linecap="round" fill="none"/>
<path d="M432.6 620.2h0" stroke="#d11586" stroke-width="5.50" stroke-linecap="round" fill="none"/>
<path d="M433.6 620.0h0" stroke="#dc1682" stroke-width="5.50" stroke-linecap="round" fill="none"/>
<path d="M434.6 620.0h0M435.5 620.0h0" stroke="#eb2f61" stroke-width="5.50" stroke-linecap="round" fill="none"/>
<path d="M436.5 620.0h0" stroke="#ec2d68" stroke-width="5.50" stroke-linecap="round" fill="none"/>
<path d="M437.5 620.0h0" stroke="#d11586" stroke-width="5.50" stroke-linecap="round" fill="none"/>
<path d="M438.5 620.0h0" stroke="#dc1682" stroke-width="5.50" stroke-linecap="round" fill="none"/>
<path d="M439.5 620.2h0M440.5 620.0h0M441.5 620.2h0M442.5 620.0h0M443.4 620.0h0M444.4 620.0h0" stroke="#eb2f61" stroke-width="5.50" stroke-linecap="round" fill="none"/>
<path d="M445.4 620.0h0" stroke="#eb2f5c" stroke-width="5.50" stroke-linecap="round" fill="none"/>
<path d="M446.4 620.0h0" stroke="#eb2f61" stroke-width="5.50" stroke-linecap="round" fill="none"/>
<path d="M447.4 620.0h0" stroke="#ec2d68" stroke-width="5.50" stroke-linecap="round" fill="none"/>
<path d="M448.4 620.0h0" stroke="#eb2f5c" stroke-width="5.50" stroke-linecap="round" fill="none"/>
<path d="M449.4 620.0h0" stroke="#962989" stroke-width="5.50" stroke-linecap="round" fill="none"/>
<path d="M450.4 620.2h0M451.3 620.0h0" stroke="#dc1682" stroke-width="5.50" stroke-linecap="round" fill="none"/>
<path d="M452.3 620.2h0" stroke="#8b328e" stroke-width="5.50" stroke-linecap="round" fill="none"/>
<path d="M453.3 620.0h0M454.3 620.0h0" stroke="#7c4095" stroke-width="5.50" stroke-linecap="round" fill="none"/>
<path d="M455.3 620.0h0" stroke="#e4187c" stroke-width="5.50" stroke-linecap="round" fill="none"/>
<path d="M456.3 620.2h0" stroke="#dc1682" stroke-width="5.50" stroke-linecap="round" fill="none"/>
<path d="M457.3 620.0h0" stroke="#d11586" stroke-width="5.50" stroke-linecap="round" fill="none"/>
<path d="M458.2 620.2h0" stroke="#e4187c" stroke-width="5.50" stroke-linecap="round" fill="none"/>
<path d="M462.5 620.1h0" stroke="#dc1682" stroke-width="5.50" stroke-linecap="round" fill="none"/>
<path d="M465.5 620.1h0" stroke="#b01a83" stroke-width="5.50" stroke-linecap="round" fill="none"/>
<path d="M468.8 620.1h0M471.8 620.1h0" stroke="#dc1682" stroke-width="5.50" stroke-linecap="round" fill="none"/>
<path d="M474.8 620.1h0" stroke="#8b328e" stroke-width="5.50" stroke-linecap="round" fill="none"/>
<path d="M478.3 620.1h0" stroke="#eb2f61" stroke-width="5.50" stroke-linecap="round" fill="none"/>
<path d="M487.5 620.1h0" stroke="#dc1682" stroke-width="5.50" stroke-linecap="round" fill="none"/>
<path d="M491.5 620.1h0" stroke="#eb2f61" stroke-width="5.50" stroke-linecap="round" fill="none"/>
<path d="M501.9 620.1h0" stroke="#dc1682" stroke-width="5.50" stroke-linecap="round" fill="none"/>
<path d="M416.45 658.43 416.70 658.43 416.95 658.43 417.20 658.43 417.45 658.43 417.70 658.43 417.95 658.43 418.20 658.43 418.45 658.41 418.70 658.41 418.95 658.34 419.20 658.23 419.45 658.06 419.70 658.06 419.95 657.83 420.20 657.50 420.45 657.50 420.70 657.01 420.95 655.68 421.20 644.83 421.45 644.83 421.70 644.83 421.70 672.13 421.45 672.13 421.20 672.13 420.95 661.28 420.70 659.95 420.45 659.46 420.20 659.46 419.95 659.13 419.70 658.90 419.45 658.90 419.20 658.73 418.95 658.62 418.70 658.55 418.45 658.55 418.20 658.53 417.95 658.53 417.70 658.53 417.45 658.53 417.20 658.53 416.95 658.53 416.70 658.53 416.45 658.53Z" fill="#3579ba" stroke="#3579ba" stroke-width="5.50" stroke-linejoin="round"/>
<path d="M427.6 658.5h0M431.9 658.5h0M434.5 658.5h0" stroke="#eb2f61" stroke-width="5.50" stroke-linecap="round" fill="none"/>
<path d="M437.6 658.5h0" stroke="#dc1682" stroke-width="5.50" stroke-linecap="round" fill="none"/>
<path d="M441.2 658.5h0M443.3 658.5h0M447.6 658.5h0M451.4 658.5h0M456.1 658.3h0" stroke="#eb2f61" stroke-width="5.50" stroke-linecap="round" fill="none"/>
<path d="M457.1 658.6h0M458.1 658.4h0M459.1 658.4h0M460.1 658.6h0M461.1 658.4h0M462.1 658.4h0" stroke="#eb2f5c" stroke-width="5.50" stroke-linecap="round" fill="none"/>
<path d="M463.1 658.6h0" stroke="#eb2f61" stroke-width="5.50" stroke-linecap="round" fill="none"/>
<path d="M464.1 658.4h0M465.1 658.6h0" stroke="#eb2f5c" stroke-width="5.50" stroke-linecap="round" fill="none"/>
<path d="M466.1 658.6h0" stroke="#ec2d68" stroke-width="5.50" stroke-linecap="round" fill="none"/>
<path d="M467.2 658.5h0" stroke="#eb2f61" stroke-width="5.50" stroke-linecap="round" fill="none"/>
<path d="M468.2 658.3h0" stroke="#ec2d68" stroke-width="5.50" stroke-linecap="round" fill="none"/>
<path d="M469.2 658.6h0M470.2 658.6h0" stroke="#eb2f61" stroke-width="5.50" stroke-linecap="round" fill="none"/>
<path d="M471.2 658.5h0" stroke="#ec2d68" stroke-width="5.50" stroke-linecap="round" fill="none"/>
<path d="M472.2 658.6h0" stroke="#eb2f5c" stroke-width="5.50" stroke-linecap="round" fill="none"/>
<path d="M473.2 658.4h0M474.2 658.6h0M475.2 658.6h0" stroke="#eb2f61" stroke-width="5.50" stroke-linecap="round" fill="none"/>
<path d="M476.2 658.3h0" stroke="#eb2f5c" stroke-width="5.50" stroke-linecap="round" fill="none"/>
<path d="M477.2 658.4h0M478.3 658.6h0" stroke="#eb2f61" stroke-width="5.50" stroke-linecap="round" fill="none"/>
<path d="M479.3 658.6h0" stroke="#eb2f5c" stroke-width="5.50" stroke-linecap="round" fill="none"/>
<path d="M480.3 658.5h0M481.3 658.6h0" stroke="#eb2f61" stroke-width="5.50" stroke-linecap="round" fill="none"/>
<path d="M482.3 658.6h0" stroke="#eb2f5c" stroke-width="5.50" stroke-linecap="round" fill="none"/>
<path d="M483.3 658.6h0M484.3 658.4h0" stroke="#ec2d68" stroke-width="5.50" stroke-linecap="round" fill="none"/>
<path d="M485.3 658.4h0" stroke="#eb2f5c" stroke-width="5.50" stroke-linecap="round" fill="none"/>
<path d="M486.3 658.6h0" stroke="#ec2d68" stroke-width="5.50" stroke-linecap="round" fill="none"/>
<path d="M487.3 658.3h0" stroke="#eb2f61" stroke-width="5.50" stroke-linecap="round" fill="none"/>
<path d="M488.4 658.4h0" stroke="#eb2f5c" stroke-width="5.50" stroke-linecap="round" fill="none"/>
<path d="M489.4 658.6h0" stroke="#eb2f61" stroke-width="5.50" stroke-linecap="round" fill="none"/>
<path d="M490.4 658.6h0" stroke="#eb2f5c" stroke-width="5.50" stroke-linecap="round" fill="none"/>
<path d="M491.4 658.6h0M492.4 658.3h0M493.4 658.4h0M494.4 658.6h0" stroke="#eb2f61" stroke-width="5.50" stroke-linecap="round" fill="none"/>
<path d="M495.4 658.6h0M496.4 658.6h0" stroke="#eb2f5c" stroke-width="5.50" stroke-linecap="round" fill="none"/>
<path d="M497.4 658.4h0M498.4 658.6h0" stroke="#eb2f61" stroke-width="5.50" stroke-linecap="round" fill="none"/>
<path d="M383.1 697.0h0" stroke="#eb2f5c" stroke-width="5.50" stroke-linecap="round" fill="none"/>
<path d="M384.1 697.0h0M385.1 697.1h0" stroke="#eb2f61" stroke-width="5.50" stroke-linecap="round" fill="none"/>
<path d="M386.1 697.0h0M387.1 697.0h0" stroke="#8b328e" stroke-width="5.50" stroke-linecap="round" fill="none"/>
<path d="M388.1 697.0h0" stroke="#eb2f61" stroke-width="5.50" stroke-linecap="round" fill="none"/>
<path d="M389.1 696.6h0" stroke="#7c4095" stroke-width="5.50" stroke-linecap="round" fill="none"/>
<path d="M390.1 696.6h0" stroke="#8b328e" stroke-width="5.50" stroke-linecap="round" fill="none"/>
<path d="M391.1 696.6h0" stroke="#962989" stroke-width="5.50" stroke-linecap="round" fill="none"/>
<path d="M392.1 697.0h0" stroke="#eb2f5c" stroke-width="5.50" stroke-linecap="round" fill="none"/>
<path d="M393.1 696.7h0" stroke="#eb2f61" stroke-width="5.50" stroke-linecap="round" fill="none"/>
<path d="M394.1 697.0h0" stroke="#eb2f5c" stroke-width="5.50" stroke-linecap="round" fill="none"/>
<path d="M395.1 697.0h0" stroke="#ec2d68" stroke-width="5.50" stroke-linecap="round" fill="none"/>
<path d="M396.1 697.0h0" stroke="#eb2f61" stroke-width="5.50" stroke-linecap="round" fill="none"/>
<path d="M397.1 696.7h0M398.1 696.6h0M399.1 697.1h0" stroke="#eb2f5c" stroke-width="5.50" stroke-linecap="round" fill="none"/>
<path d="M400.1 697.1h0M401.2 697.1h0M402.2 697.1h0" stroke="#eb2f61" stroke-width="5.50" stroke-linecap="round" fill="none"/>
<path d="M403.2 697.0h0" stroke="#eb2f5c" stroke-width="5.50" stroke-linecap="round" fill="none"/>
<path d="M404.2 697.0h0" stroke="#eb2f61" stroke-width="5.50" stroke-linecap="round" fill="none"/>
<path d="M405.2 697.0h0" stroke="#eb2f5c" stroke-width="5.50" stroke-linecap="round" fill="none"/>
<path d="M406.2 696.8h0M407.2 696.7h0" stroke="#eb2f61" stroke-width="5.50" stroke-linecap="round" fill="none"/>
<path d="M408.2 696.7h0" stroke="#eb2f5c" stroke-width="5.50" stroke-linecap="round" fill="none"/>
<path d="M409.2 696.7h0M410.2 696.6h0" stroke="#eb2f61" stroke-width="5.50" stroke-linecap="round" fill="none"/>
<path d="M411.2 696.7h0" stroke="#ec2d68" stroke-width="5.50" stroke-linecap="round" fill="none"/>
<path d="M412.2 696.7h0" stroke="#eb2f61" stroke-width="5.50" stroke-linecap="round" fill="none"/>
<path d="M413.2 697.1h0" stroke="#ec2d68" stroke-width="5.50" stroke-linecap="round" fill="none"/>
<path d="M414.2 696.7h0" stroke="#e4187c" stroke-width="5.50" stroke-linecap="round" fill="none"/>
<path d="M415.2 697.0h0" stroke="#dc1682" stroke-width="5.50" stroke-linecap="round" fill="none"/>
<path d="M416.2 696.7h0" stroke="#b01a83" stroke-width="5.50" stroke-linecap="round" fill="none"/>
<path d="M417.2 696.6h0" stroke="#dc1682" stroke-width="5.50" stroke-linecap="round" fill="none"/>
<path d="M418.2 696.7h0" stroke="#c11885" stroke-width="5.50" stroke-linecap="round" fill="none"/>
<path d="M402.1 695.6h0M402.1 698.2h0" stroke="#dc1682" stroke-width="5.50" stroke-linecap="round" fill="none"/>
<path d="M422.95 695.34 423.20 695.13 423.45 694.92 423.70 694.71 423.95 694.50 424.20 694.29 424.45 694.08 424.70 693.86 424.95 693.65 425.20 693.44 425.45 693.24 425.70 693.02 425.95 693.01 426.20 692.68 426.45 692.19 426.70 692.19 426.95 690.86 427.20 683.61 427.45 694.06 427.70 695.39 427.95 695.88 428.20 695.88 428.45 696.21 428.70 696.44 428.95 696.44 429.20 696.61 429.45 696.72 429.70 696.79 429.95 696.79 430.20 696.81 430.45 696.81 430.70 696.81 430.95 696.81 431.20 696.81 431.45 696.81 431.45 696.91 431.20 696.91 430.95 696.91 430.70 696.91 430.45 696.91 430.20 696.91 429.95 696.93 429.70 696.93 429.45 697.00 429.20 697.11 428.95 697.28 428.70 697.28 428.45 697.51 428.20 697.84 427.95 697.84 427.70 698.33 427.45 699.66 427.20 710.11 426.95 702.86 426.70 701.53 426.45 701.53 426.20 701.04 425.95 700.71 425.70 700.70 425.45 700.48 425.20 700.28 424.95 700.07 424.70 699.86 424.45 699.64 424.20 699.43 423.95 699.22 423.70 699.01 423.45 698.80 423.20 698.59 422.95 698.38Z" fill="#3579ba" stroke="#3579ba" stroke-width="5.50" stroke-linejoin="round"/>
<path d="M196.2 735.2h0M214.2 735.2h0M232.5 735.2h0M235.5 735.2h0M250.0 735.2h0M284.3 735.2h0M314.2 735.2h0M419.9 735.2h0M445.3 735.2h0" stroke="#eb2f61" stroke-width="5.50" stroke-linecap="round" fill="none"/>
<path d="M351.8 735.0h0M352.7 735.1h0M353.7 735.4h0" stroke="#eb2f5c" stroke-width="5.50" stroke-linecap="round" fill="none"/>
<path d="M354.7 735.5h0" stroke="#eb2f61" stroke-width="5.50" stroke-linecap="round" fill="none"/>
<path d="M355.7 735.0h0M356.7 735.5h0" stroke="#ec2d68" stroke-width="5.50" stroke-linecap="round" fill="none"/>
<path d="M357.7 735.5h0M358.7 735.5h0M359.7 735.0h0" stroke="#eb2f5c" stroke-width="5.50" stroke-linecap="round" fill="none"/>
<path d="M360.7 735.4h0" stroke="#eb2f61" stroke-width="5.50" stroke-linecap="round" fill="none"/>
<path d="M361.7 735.0h0" stroke="#ec2d68" stroke-width="5.50" stroke-linecap="round" fill="none"/>
<path d="M362.7 735.5h0" stroke="#eb2f5c" stroke-width="5.50" stroke-linecap="round" fill="none"/>
<path d="M363.7 735.4h0" stroke="#eb2f61" stroke-width="5.50" stroke-linecap="round" fill="none"/>
<path d="M364.7 735.3h0M365.7 735.1h0M366.7 735.4h0" stroke="#eb2f5c" stroke-width="5.50" stroke-linecap="round" fill="none"/>
<path d="M367.6 735.1h0M368.6 735.1h0" stroke="#eb2f61" stroke-width="5.50" stroke-linecap="round" fill="none"/>
<path d="M369.6 735.4h0M370.6 735.5h0M371.6 735.4h0M372.6 735.0h0M373.6 735.1h0" stroke="#eb2f5c" stroke-width="5.50" stroke-linecap="round" fill="none"/>
<path d="M374.6 735.0h0" stroke="#eb2f61" stroke-width="5.50" stroke-linecap="round" fill="none"/>
<path d="M375.6 735.0h0M376.6 735.0h0M377.6 735.3h0" stroke="#ec2d68" stroke-width="5.50" stroke-linecap="round" fill="none"/>
<path d="M378.6 735.0h0" stroke="#eb2f5c" stroke-width="5.50" stroke-linecap="round" fill="none"/>
<path d="M379.6 735.1h0" stroke="#eb2f61" stroke-width="5.50" stroke-linecap="round" fill="none"/>
<path d="M380.6 735.1h0" stroke="#eb2f5c" stroke-width="5.50" stroke-linecap="round" fill="none"/>
<path d="M381.6 735.4h0" stroke="#eb2f61" stroke-width="5.50" stroke-linecap="round" fill="none"/>
<path d="M382.6 735.1h0" stroke="#eb2f5c" stroke-width="5.50" stroke-linecap="round" fill="none"/>
<path d="M383.5 735.0h0" stroke="#eb2f61" stroke-width="5.50" stroke-linecap="round" fill="none"/>
<path d="M384.5 735.4h0" stroke="#eb2f5c" stroke-width="5.50" stroke-linecap="round" fill="none"/>
<path d="M385.5 735.4h0" stroke="#ec2d68" stroke-width="5.50" stroke-linecap="round" fill="none"/>
<path d="M386.5 735.5h0" stroke="#eb2f5c" stroke-width="5.50" stroke-linecap="round" fill="none"/>
<path d="M387.5 735.4h0" stroke="#ec2d68" stroke-width="5.50" stroke-linecap="round" fill="none"/>
<path d="M388.5 735.1h0" stroke="#eb2f5c" stroke-width="5.50" stroke-linecap="round" fill="none"/>
<path d="M389.5 735.4h0" stroke="#eb2f61" stroke-width="5.50" stroke-linecap="round" fill="none"/>
<path d="M390.5 735.1h0M391.5 735.1h0" stroke="#eb2f5c" stroke-width="5.50" stroke-linecap="round" fill="none"/>
<path d="M392.5 735.0h0" stroke="#eb2f61" stroke-width="5.50" stroke-linecap="round" fill="none"/>
<path d="M393.5 735.0h0" stroke="#eb2f5c" stroke-width="5.50" stroke-linecap="round" fill="none"/>
<path d="M394.5 735.0h0" stroke="#ec2d68" stroke-width="5.50" stroke-linecap="round" fill="none"/>
<path d="M395.5 735.0h0" stroke="#eb2f5c" stroke-width="5.50" stroke-linecap="round" fill="none"/>
<path d="M396.5 735.1h0M397.5 735.4h0" stroke="#eb2f61" stroke-width="5.50" stroke-linecap="round" fill="none"/>
<path d="M398.4 735.5h0M399.4 735.4h0" stroke="#eb2f5c" stroke-width="5.50" stroke-linecap="round" fill="none"/>
<path d="M400.4 735.1h0M401.4 735.3h0M402.4 735.5h0M403.4 735.4h0" stroke="#eb2f61" stroke-width="5.50" stroke-linecap="round" fill="none"/>
<path d="M404.4 735.0h0" stroke="#ec2d68" stroke-width="5.50" stroke-linecap="round" fill="none"/>
<path d="M405.4 735.0h0M406.4 735.0h0M407.4 735.0h0" stroke="#eb2f5c" stroke-width="5.50" stroke-linecap="round" fill="none"/>
<path d="M408.4 735.0h0M409.4 735.5h0M410.4 735.1h0" stroke="#eb2f61" stroke-width="5.50" stroke-linecap="round" fill="none"/>
<path d="M411.4 735.0h0M412.4 735.4h0" stroke="#eb2f5c" stroke-width="5.50" stroke-linecap="round" fill="none"/>
<path d="M413.4 735.1h0" stroke="#eb2f61" stroke-width="5.50" stroke-linecap="round" fill="none"/>
<path d="M425.05 722.01 425.30 721.59 425.55 721.19 425.80 721.19 426.05 721.19 426.30 721.19 426.55 721.19 426.80 721.19 427.05 721.19 427.30 721.19 427.55 721.19 427.80 721.19 428.05 721.19 428.30 721.19 428.55 721.19 428.80 721.19 429.05 721.37 429.30 732.44 429.55 733.77 429.80 734.26 430.05 734.26 430.30 734.59 430.55 734.82 430.80 734.99 431.05 734.99 431.05 735.49 430.80 735.49 430.55 735.66 430.30 735.89 430.05 736.22 429.80 736.22 429.55 736.71 429.30 738.04 429.05 749.11 428.80 749.29 428.55 749.29 428.30 749.29 428.05 749.29 427.80 749.29 427.55 749.29 427.30 749.29 427.05 749.29 426.80 749.29 426.55 749.29 426.30 749.29 426.05 749.29 425.80 749.29 425.55 749.29 425.30 748.89 425.05 748.47Z" fill="#3579ba" stroke="#3579ba" stroke-width="5.50" stroke-linejoin="round"/>
<path d="M354.3 773.6h0" stroke="#8b328e" stroke-width="5.50" stroke-linecap="round" fill="none"/>
<path d="M355.5 773.6h0" stroke="#5e529f" stroke-width="5.50" stroke-linecap="round" fill="none"/>
<path d="M358.0 773.6h0" stroke="#eb2f61" stroke-width="5.50" stroke-linecap="round" fill="none"/>
<path d="M361.0 773.6h0M363.5 773.6h0" stroke="#dc1682" stroke-width="5.50" stroke-linecap="round" fill="none"/>
<path d="M366.0 773.6h0" stroke="#5e529f" stroke-width="5.50" stroke-linecap="round" fill="none"/>
<path d="M367.5 773.6h0" stroke="#8b328e" stroke-width="5.50" stroke-linecap="round" fill="none"/>
<path d="M370.0 773.6h0M372.0 773.6h0" stroke="#eb2f61" stroke-width="5.50" stroke-linecap="round" fill="none"/>
<path d="M376.0 773.6h0M379.0 773.6h0" stroke="#dc1682" stroke-width="5.50" stroke-linecap="round" fill="none"/>
<path d="M382.0 773.6h0" stroke="#8b328e" stroke-width="5.50" stroke-linecap="round" fill="none"/>
<path d="M385.0 773.6h0M388.2 773.6h0" stroke="#eb2f61" stroke-width="5.50" stroke-linecap="round" fill="none"/>
<path d="M392.6 773.6h0" stroke="#5e529f" stroke-width="5.50" stroke-linecap="round" fill="none"/>
<path d="M395.0 773.6h0" stroke="#8b328e" stroke-width="5.50" stroke-linecap="round" fill="none"/>
<path d="M398.2 773.6h0M400.5 773.6h0" stroke="#dc1682" stroke-width="5.50" stroke-linecap="round" fill="none"/>
<path d="M403.4 773.6h0" stroke="#8b328e" stroke-width="5.50" stroke-linecap="round" fill="none"/>
<path d="M407.5 773.6h0" stroke="#eb2f61" stroke-width="5.50" stroke-linecap="round" fill="none"/>
<path d="M410.5 773.6h0" stroke="#8b328e" stroke-width="5.50" stroke-linecap="round" fill="none"/>
<path d="M414.6 773.6h0" stroke="#dc1682" stroke-width="5.50" stroke-linecap="round" fill="none"/>
<path d="M354.1 773.9h0" stroke="#8b328e" stroke-width="5.50" stroke-linecap="round" fill="none"/>
<path d="M355.2 773.8h0" stroke="#962989" stroke-width="5.50" stroke-linecap="round" fill="none"/>
<path d="M356.2 773.9h0M357.2 773.8h0" stroke="#eb2f5c" stroke-width="5.50" stroke-linecap="round" fill="none"/>
<path d="M358.2 773.5h0" stroke="#ec2d68" stroke-width="5.50" stroke-linecap="round" fill="none"/>
<path d="M359.2 773.8h0" stroke="#eb2f61" stroke-width="5.50" stroke-linecap="round" fill="none"/>
<path d="M360.2 773.5h0" stroke="#7c4095" stroke-width="5.50" stroke-linecap="round" fill="none"/>
<path d="M361.2 773.7h0" stroke="#dc1682" stroke-width="5.50" stroke-linecap="round" fill="none"/>
<path d="M362.2 773.5h0" stroke="#eb2f5c" stroke-width="5.50" stroke-linecap="round" fill="none"/>
<path d="M363.2 773.5h0M364.2 773.4h0M365.2 773.5h0" stroke="#dc1682" stroke-width="5.50" stroke-linecap="round" fill="none"/>
<path d="M366.2 773.7h0" stroke="#5e529f" stroke-width="5.50" stroke-linecap="round" fill="none"/>
<path d="M367.3 773.5h0M368.3 773.4h0M369.3 773.8h0" stroke="#6d4f9c" stroke-width="5.50" stroke-linecap="round" fill="none"/>
<path d="M370.3 773.5h0" stroke="#8b328e" stroke-width="5.50" stroke-linecap="round" fill="none"/>
<path d="M371.3 773.5h0" stroke="#962989" stroke-width="5.50" stroke-linecap="round" fill="none"/>
<path d="M372.3 773.5h0" stroke="#8b328e" stroke-width="5.50" stroke-linecap="round" fill="none"/>
<path d="M373.3 773.4h0" stroke="#7c4095" stroke-width="5.50" stroke-linecap="round" fill="none"/>
<path d="M374.3 773.8h0" stroke="#962989" stroke-width="5.50" stroke-linecap="round" fill="none"/>
<path d="M375.3 773.8h0" stroke="#8b328e" stroke-width="5.50" stroke-linecap="round" fill="none"/>
<path d="M376.3 773.4h0M377.3 773.7h0M378.3 773.4h0M379.4 773.5h0" stroke="#eb2f61" stroke-width="5.50" stroke-linecap="round" fill="none"/>
<path d="M380.4 773.8h0" stroke="#e4187c" stroke-width="5.50" stroke-linecap="round" fill="none"/>
<path d="M381.4 773.5h0" stroke="#8b328e" stroke-width="5.50" stroke-linecap="round" fill="none"/>
<path d="M382.4 773.4h0M383.4 773.4h0" stroke="#dc1682" stroke-width="5.50" stroke-linecap="round" fill="none"/>
<path d="M384.4 773.8h0" stroke="#962989" stroke-width="5.50" stroke-linecap="round" fill="none"/>
<path d="M385.4 773.4h0" stroke="#e4187c" stroke-width="5.50" stroke-linecap="round" fill="none"/>
<path d="M386.4 773.8h0" stroke="#eb2f5c" stroke-width="5.50" stroke-linecap="round" fill="none"/>
<path d="M387.4 773.4h0" stroke="#8b328e" stroke-width="5.50" stroke-linecap="round" fill="none"/>
<path d="M388.4 773.4h0" stroke="#7c4095" stroke-width="5.50" stroke-linecap="round" fill="none"/>
<path d="M389.4 773.5h0" stroke="#eb2f5c" stroke-width="5.50" stroke-linecap="round" fill="none"/>
<path d="M390.4 773.5h0" stroke="#eb2f61" stroke-width="5.50" stroke-linecap="round" fill="none"/>
<path d="M391.5 773.8h0" stroke="#ec2d68" stroke-width="5.50" stroke-linecap="round" fill="none"/>
<path d="M392.5 773.8h0" stroke="#eb2f61" stroke-width="5.50" stroke-linecap="round" fill="none"/>
<path d="M393.5 773.4h0" stroke="#eb2f5c" stroke-width="5.50" stroke-linecap="round" fill="none"/>
<path d="M394.5 773.8h0M395.5 773.5h0" stroke="#6d4f9c" stroke-width="5.50" stroke-linecap="round" fill="none"/>
<path d="M396.5 773.4h0M397.5 773.5h0M398.5 773.8h0" stroke="#5e529f" stroke-width="5.50" stroke-linecap="round" fill="none"/>
<path d="M399.5 773.4h0M400.5 773.4h0" stroke="#dc1682" stroke-width="5.50" stroke-linecap="round" fill="none"/>
<path d="M401.5 773.5h0" stroke="#962989" stroke-width="5.50" stroke-linecap="round" fill="none"/>
<path d="M402.5 773.8h0" stroke="#d11586" stroke-width="5.50" stroke-linecap="round" fill="none"/>
<path d="M403.6 773.4h0M404.6 773.7h0" stroke="#8b328e" stroke-width="5.50" stroke-linecap="round" fill="none"/>
<path d="M405.6 773.4h0" stroke="#962989" stroke-width="5.50" stroke-linecap="round" fill="none"/>
<path d="M406.6 773.7h0" stroke="#e4187c" stroke-width="5.50" stroke-linecap="round" fill="none"/>
<path d="M407.6 773.5h0" stroke="#8b328e" stroke-width="5.50" stroke-linecap="round" fill="none"/>
<path d="M408.6 773.9h0M409.6 773.4h0M410.6 773.8h0" stroke="#eb2f61" stroke-width="5.50" stroke-linecap="round" fill="none"/>
<path d="M411.6 773.8h0" stroke="#eb2f5c" stroke-width="5.50" stroke-linecap="round" fill="none"/>
<path d="M412.6 773.8h0" stroke="#8b328e" stroke-width="5.50" stroke-linecap="round" fill="none"/>
<path d="M413.6 773.8h0M414.6 773.5h0" stroke="#e4187c" stroke-width="5.50" stroke-linecap="round" fill="none"/>
<path d="M354.3 773.6h0" stroke="#8b328e" stroke-width="5.50" stroke-linecap="round" fill="none"/>
<path d="M358.0 773.6h0" stroke="#eb2f61" stroke-width="5.50" stroke-linecap="round" fill="none"/>
<path d="M363.5 773.6h0" stroke="#dc1682" stroke-width="5.50" stroke-linecap="round" fill="none"/>
<path d="M367.5 773.6h0" stroke="#8b328e" stroke-width="5.50" stroke-linecap="round" fill="none"/>
<path d="M372.0 773.6h0" stroke="#eb2f61" stroke-width="5.50" stroke-linecap="round" fill="none"/>
<path d="M379.0 773.6h0" stroke="#dc1682" stroke-width="5.50" stroke-linecap="round" fill="none"/>
<path d="M385.0 773.6h0" stroke="#eb2f61" stroke-width="5.50" stroke-linecap="round" fill="none"/>
<path d="M392.6 773.6h0" stroke="#5e529f" stroke-width="5.50" stroke-linecap="round" fill="none"/>
<path d="M398.2 773.6h0" stroke="#dc1682" stroke-width="5.50" stroke-linecap="round" fill="none"/>
<path d="M403.4 773.6h0M410.5 773.6h0" stroke="#8b328e" stroke-width="5.50" stroke-linecap="round" fill="none"/>
<path d="M423.35 773.55 423.60 773.48 423.85 773.48 424.10 773.37 424.35 773.20 424.60 772.97 424.85 772.97 425.10 772.64 425.35 772.15 425.60 772.15 425.85 770.82 426.10 760.37 426.35 760.37 426.60 760.37 426.85 760.37 427.10 760.37 427.35 760.37 427.60 760.37 427.85 760.37 428.10 770.82 428.35 770.82 428.60 772.15 428.85 772.64 429.10 772.97 429.35 772.97 429.60 773.20 429.85 773.37 430.10 773.37 430.35 773.48 430.60 773.55 430.85 773.57 431.10 773.57 431.35 773.57 431.35 773.67 431.10 773.67 430.85 773.67 430.60 773.69 430.35 773.76 430.10 773.87 429.85 773.87 429.60 774.04 429.35 774.27 429.10 774.27 428.85 774.60 428.60 775.09 428.35 776.42 428.10 776.42 427.85 786.87 427.60 786.87 427.35 786.87 427.10 786.87 426.85 786.87 426.60 786.87 426.35 786.87 426.10 786.87 425.85 776.42 425.60 775.09 425.35 775.09 425.10 774.60 424.85 774.27 424.60 774.27 424.35 774.04 424.10 773.87 423.85 773.76 423.60 773.76 423.35 773.69Z" fill="#3579ba" stroke="#3579ba" stroke-width="5.50" stroke-linejoin="round"/>
<path d="M427.4 782.9h0" stroke="#5e529f" stroke-width="5.50" stroke-linecap="round" fill="none"/>
<path d="M110.5 813.00H595.6" stroke="#383838" stroke-width="2.0" fill="none"/>
<path d="M119.32 812.90v4.9M180.30 812.90v4.9M241.27 812.90v4.9M302.25 812.90v4.9M363.22 812.90v4.9M424.20 812.90v4.9M485.18 812.90v4.9M546.15 812.90v4.9" stroke="#333333" stroke-width="1.1" fill="none"/>
<text transform="translate(97.80 832.30) scale(1.150 1)" x="0.74 9.95 17.87 21.61 29.38" y="0" font-size="15.00" fill="#333333">−1.25</text>
<text transform="translate(158.77 832.30) scale(1.150 1)" x="0.74 9.95 17.87 21.61 29.38" y="0" font-size="15.00" fill="#333333">−1.00</text>
<text transform="translate(219.75 832.30) scale(1.150 1)" x="0.74 9.95 17.87 21.61 29.38" y="0" font-size="15.00" fill="#333333">−0.75</text>
<text transform="translate(280.72 832.30) scale(1.150 1)" x="0.74 9.95 17.87 21.61 29.38" y="0" font-size="15.00" fill="#333333">−0.50</text>
<text transform="translate(341.70 832.30) scale(1.150 1)" x="0.74 9.95 17.87 21.61 29.38" y="0" font-size="15.00" fill="#333333">−0.25</text>
<text transform="translate(408.56 832.30) scale(1.130 1)" x="-0.22 7.80 11.64 19.55" y="0" font-size="15.00" fill="#333333">0.00</text>
<text transform="translate(469.53 832.30) scale(1.130 1)" x="-0.22 7.80 11.64 19.55" y="0" font-size="15.00" fill="#333333">0.25</text>
<text transform="translate(530.51 832.30) scale(1.130 1)" x="-0.22 7.80 11.64 19.55" y="0" font-size="15.00" fill="#333333">0.50</text>
<text transform="translate(195.74 852.90) scale(1.150 1)" x="-1.09 8.45 19.28 28.57 38.53 43.21 51.42 60.69 64.43 73.45 82.55 87.19 92.95 96.80 110.76 119.76 128.63 137.32 142.44 146.79 155.78 165.01 169.62 183.42 192.42 201.44 210.72 214.55 218.89 227.88 237.65 242.70 251.86 261.63 266.80" y="0" font-size="17.00" fill="#262626">SHAP value (impact on model output)</text>
<text transform="translate(36.01 50.50) scale(1.141 1)" x="-0.33 9.26 14.58 23.35 33.13" y="0" font-size="17.80" fill="#333333">great</text>
<text transform="translate(45.09 88.88) scale(1.124 1)" x="0.07 3.67 13.05 21.46" y="0" font-size="17.80" fill="#333333">love</text>
<text transform="translate(43.99 127.26) scale(1.126 1)" x="-0.27 8.94 17.82 26.53" y="0" font-size="17.80" fill="#333333">best</text>
<text transform="translate(9.00 165.64) scale(1.112 1)" x="-0.37 9.01 23.32 32.32 40.78 44.61 54.09" y="0" font-size="17.80" fill="#333333">amazing</text>
<text transform="translate(6.86 204.02) scale(1.113 1)" x="-0.21 9.11 18.75 22.89 26.60 35.24 38.91 48.20 57.32" y="0" font-size="17.80" fill="#333333">delicious</text>
<text transform="translate(48.65 242.40) scale(1.110 1)" x="-0.20 9.13 18.45" y="0" font-size="17.80" fill="#333333">bad</text>
<text transform="translate(60.13 280.78) scale(1.109 1)" x="-0.37 9.04" y="0" font-size="17.80" fill="#333333">ok</text>
<text transform="translate(0.75 319.16) scale(1.096 1)" x="-0.31 9.05 21.38 30.48 38.56 48.10 62.60" y="0" font-size="17.80" fill="#333333">awesome</text>
<text transform="translate(45.85 357.54) scale(1.100 1)" x="-0.30 7.96 17.19 26.88" y="0" font-size="17.80" fill="#333333">cool</text>
<text transform="translate(32.67 395.92) scale(1.144 1)" x="0.08 4.75 13.95 23.14 32.53" y="0" font-size="17.80" fill="#333333">funny</text>
<text transform="translate(15.74 434.30) scale(1.150 1)" x="0.07 4.56 13.75 21.94 31.31 37.26 41.60 46.40" y="0" font-size="17.80" fill="#333333">favorite</text>
<text transform="translate(15.89 472.68) scale(1.138 1)" x="-0.33 8.76 18.21 24.08 29.97 33.66 43.29 46.83" y="0" font-size="17.80" fill="#333333">horrible</text>
<text transform="translate(20.63 511.06) scale(1.149 1)" x="-0.36 8.66 18.07 24.07 28.58 37.50 46.28" y="0" font-size="17.80" fill="#333333">perfect</text>
<text transform="translate(43.21 549.44) scale(1.117 1)" x="0.14 4.83 13.91 23.17" y="0" font-size="17.80" fill="#333333">food</text>
<text transform="translate(15.25 587.82) scale(1.112 1)" x="-0.38 9.24 14.93 24.14 33.78 39.30 48.47" y="0" font-size="17.80" fill="#333333">ordered</text>
<text transform="translate(16.91 626.20) scale(1.150 1)" x="0.07 5.09 11.04 14.52 23.53 32.69 42.25 46.05" y="0" font-size="17.80" fill="#333333">friendly</text>
<text transform="translate(4.64 664.58) scale(1.130 1)" x="-0.43 8.80 16.93 24.86 34.39 38.47 42.06 51.23 61.24" y="0" font-size="17.80" fill="#333333">excellent</text>
<text transform="translate(43.69 702.96) scale(1.135 1)" x="-0.31 9.34 13.04 22.32" y="0" font-size="17.80" fill="#333333">didn</text>
<text transform="translate(12.70 741.34) scale(1.137 1)" x="-0.31 14.27 17.95 27.20 37.16 42.03 50.83" y="0" font-size="17.80" fill="#333333">minutes</text>
<text transform="translate(31.31 779.72) scale(1.079 1)" x="-0.24 8.98 17.44 25.85 35.19" y="0" font-size="17.80" fill="#333333">asked</text>
<rect x="625.1" y="6" width="10.5" height="806.5" fill="url(#cb)"/>
<text transform="translate(640.20 11.70) scale(1.119 1)" x="-0.62 9.54 12.80 20.76" y="0" font-size="14.80" fill="#222222">High</text>
<text transform="translate(640.20 817.90) scale(1.075 1)" x="-0.48 7.05 15.05" y="0" font-size="14.80" fill="#222222">Low</text>
<g transform="translate(683.4 410) rotate(-90)"><text transform="translate(-52.34 0.00) scale(1.136 1)" x="-0.97 7.12 15.04 24.04 28.75 37.57 42.58 50.94 55.31 62.99 71.66 75.16 83.59" y="0" font-size="15.90" fill="#222222">Feature value</text></g>
</svg></body></html>
